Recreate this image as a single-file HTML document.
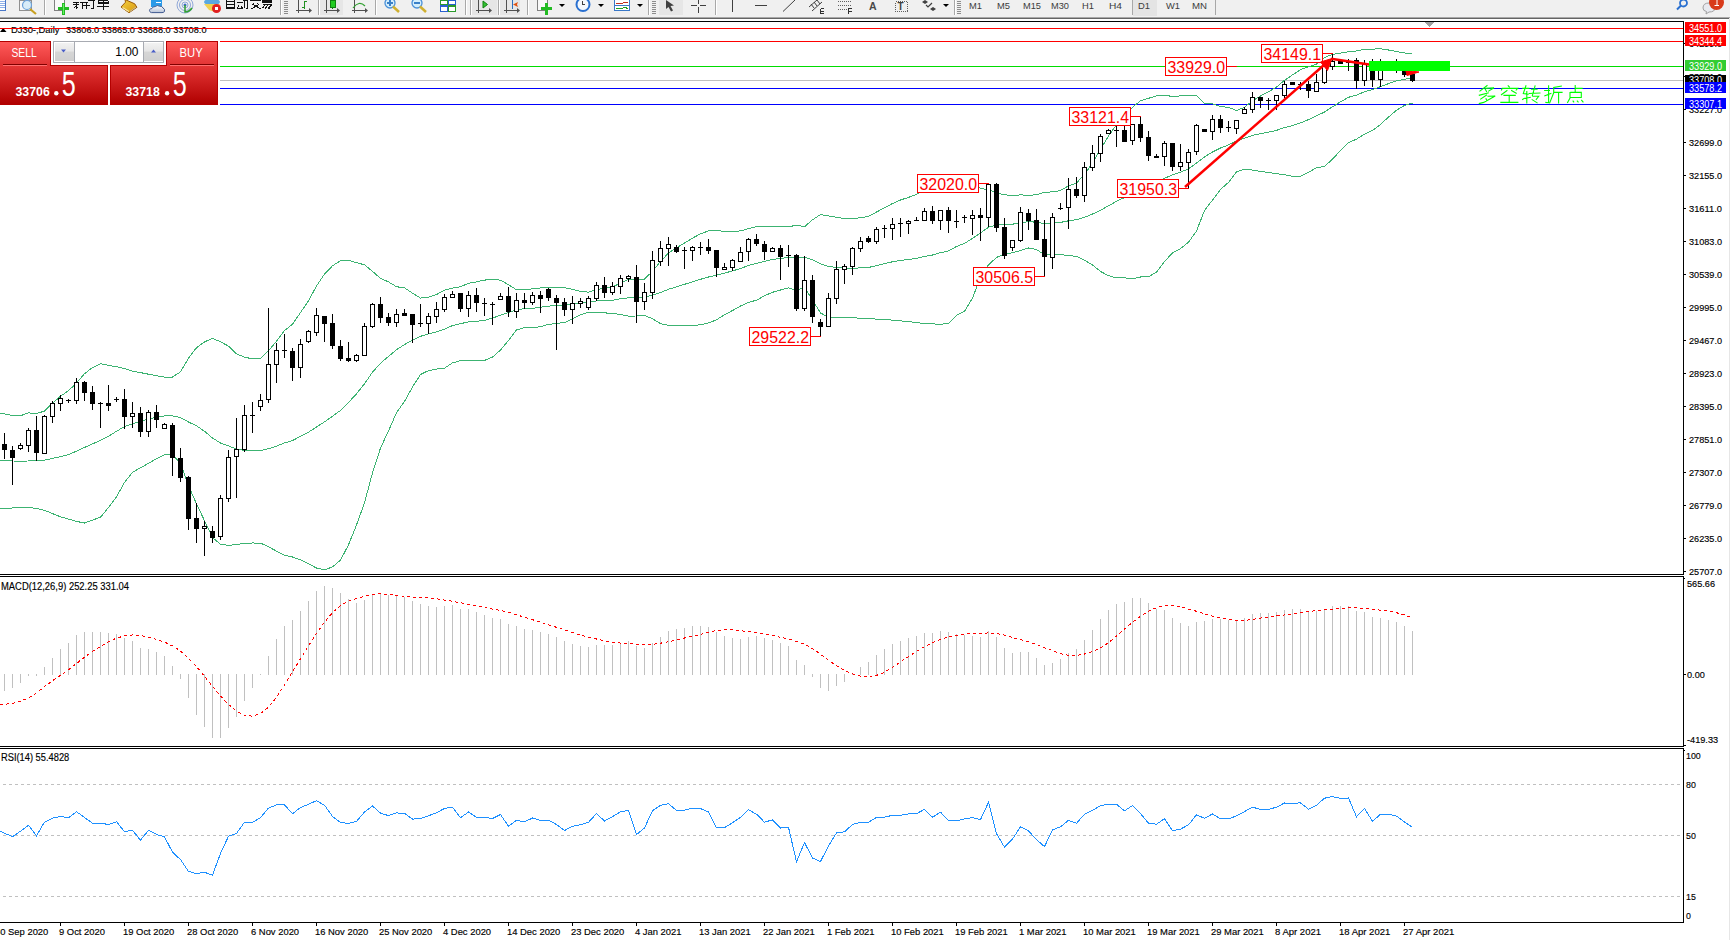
<!DOCTYPE html><html><head><meta charset="utf-8"><style>html,body{margin:0;padding:0;background:#fff;width:1730px;height:940px;overflow:hidden}svg{display:block}text{font-family:"Liberation Sans",sans-serif}</style></head><body><svg width="1730" height="940" viewBox="0 0 1730 940" shape-rendering="crispEdges">
<rect x="0" y="0" width="1730" height="940" fill="#ffffff"/>
<rect x="0" y="0" width="1730" height="17" fill="#f0f0f0"/>
<rect x="0" y="17" width="1730" height="1" fill="#a8a8a8"/>
<rect x="0" y="18" width="1730" height="1" fill="#646464"/>
<rect x="1729" y="18" width="1" height="922" fill="#e6e6e6"/>
<text x="869" y="9.5" font-size="10.5" fill="#484848" font-weight="bold">A</text>
<text x="897.5" y="10" font-size="10" fill="#404040" font-weight="bold">T</text>
<rect x="0" y="0" width="6" height="11" fill="#ffffff"/><rect x="5" y="0" width="1" height="11" fill="#4a78c8"/><rect x="0" y="10" width="6" height="1" fill="#4a78c8"/><rect x="0" y="1" width="5" height="1" fill="#8fb0e8"/><rect x="0" y="3" width="5" height="1" fill="#8fb0e8"/><rect x="0" y="5" width="5" height="1" fill="#8fb0e8"/><rect x="0" y="7" width="5" height="1" fill="#8fb0e8"/><rect x="19" y="0" width="12" height="10" fill="#f8f8f8" stroke="#909090" stroke-width="1"/><circle cx="27" cy="5" r="4.5" fill="#d8ecf8" stroke="#6aa0d8" stroke-width="1.2" shape-rendering="auto"/><line x1="30" y1="9" x2="36" y2="14" stroke="#c8a020" stroke-width="2.2" shape-rendering="auto"/><rect x="44" y="0" width="1" height="15" fill="#a8a8a8"/><rect x="45" y="0" width="1" height="15" fill="#ffffff"/><rect x="54.5" y="-1" width="10" height="11" fill="#f8f8f8" stroke="#808080" stroke-width="1"/><rect x="62" y="3" width="3" height="12" fill="#22bb22"/><rect x="58" y="7" width="11" height="3" fill="#22bb22"/><rect x="63" y="4" width="1" height="10" fill="#66ee66"/><path d="M73,2.5 H79 M73,4.5 H79 M76,2.5 V9 M73.5,8.5 L76,6 L78.5,8.5 M80,2.5 H88 M82.5,2.5 V9 M86.5,2.5 V9 M82.5,5.5 H88 M87.5,6 L89.5,5 M88,0.5 H95 M93,0.5 V8.5 L90.5,8.5 M98,0.5 H108 M98,2 H108 M98,3.5 H108 M98,0.5 V4 M108,0.5 V4 M97,6.5 H109 M103,0 V9.5" fill="none" stroke="#111" stroke-width="1"/><defs><linearGradient id="gbook" x1="0" y1="0" x2="1" y2="1"><stop offset="0" stop-color="#f4d040"/><stop offset="1" stop-color="#d89810"/></linearGradient><linearGradient id="gcloud" x1="0" y1="0" x2="0" y2="1"><stop offset="0" stop-color="#ffffff"/><stop offset="1" stop-color="#b8c4d8"/></linearGradient></defs><polygon points="125,-0.5 134.7,3.8 136.9,7.3 129,12.7 121,7 125.5,2.2" fill="url(#gbook)" stroke="#9a5a08" stroke-width="1" shape-rendering="auto"/><path d="M122.5,7.5 L129,11.5" stroke="#f8e8a0" stroke-width="1.2" shape-rendering="auto"/><path d="M130,11.5 L136,7" stroke="#c8b890" stroke-width="1" shape-rendering="auto"/><rect x="151" y="0" width="11" height="7" fill="#2a9ae8"/><rect x="154.5" y="0" width="0.8" height="7" fill="#e0f0ff"/><rect x="156" y="1.5" width="5" height="1" fill="#ffffff"/><path d="M150,11.8 Q148.3,9 151.8,8.6 Q153,6.2 155.3,6.6 Q157,4.6 159.6,6.2 Q162,5.8 163,8 Q165.5,9 164.3,11.8 Q163.5,12.6 162,12.6 L151.5,12.6 Q150.5,12.6 150,11.8 Z" fill="url(#gcloud)" stroke="#405a90" stroke-width="1" shape-rendering="auto"/><g fill="none" stroke="#90a8d8" stroke-width="1" shape-rendering="auto"><circle cx="185" cy="5" r="3"/><circle cx="185" cy="5" r="5.5"/><circle cx="185" cy="5" r="8"/></g><circle cx="185" cy="5" r="1.5" fill="#3a6ad0" shape-rendering="auto"/><path d="M185,5 V12 Q189,12 192,8" fill="none" stroke="#30a030" stroke-width="1.5" shape-rendering="auto"/><ellipse cx="212" cy="2" rx="8" ry="3.5" fill="#5aa8e0" shape-rendering="auto"/><polygon points="204,4 220,4 215,12 209,10" fill="#f0d050" shape-rendering="auto"/><circle cx="216.5" cy="8.5" r="4.5" fill="#e02020" shape-rendering="auto"/><rect x="215" y="7" width="3" height="3" fill="#ffffff"/><path d="M226.5,0 V9 M234.5,0 V9 M226.5,1.5 H234.5 M226.5,4.5 H234.5 M226.5,7 H234.5 M226.5,8.5 H234.5 M237,2.5 H243 M238.5,5 L237.5,8.5 H243 M241,6 L242.5,8 M243,0.5 H248 M247.5,0.5 V8.5 L246,9 M245,0 L244,8.5 M250,0.5 H261 M252,5 L254.5,2.8 M259,5 L256.5,2.8 M251,9 L259,4.5 M253,4.5 L261,9 M262.5,0 H271.5 V2.5 H262.5 Z M262.5,1.3 H271.5 M263,4 H272 L269,9 M265,5 L262.5,8 M268,5 L265,9 M271,5 L268,9" fill="none" stroke="#111" stroke-width="1"/><rect x="280" y="0" width="1" height="15" fill="#a8a8a8"/><rect x="281" y="0" width="1" height="15" fill="#ffffff"/><rect x="284" y="1" width="4" height="1" fill="#8c8c8c"/><rect x="284" y="3" width="4" height="1" fill="#8c8c8c"/><rect x="284" y="5" width="4" height="1" fill="#8c8c8c"/><rect x="284" y="7" width="4" height="1" fill="#8c8c8c"/><rect x="284" y="9" width="4" height="1" fill="#8c8c8c"/><rect x="284" y="11" width="4" height="1" fill="#8c8c8c"/><rect x="284" y="13" width="4" height="1" fill="#8c8c8c"/><rect x="298" y="0" width="1" height="13" fill="#505050"/><rect x="296" y="10" width="14" height="1" fill="#505050"/><polygon points="309,8 312,10.5 309,13" fill="#505050" shape-rendering="auto"/><path d="M304.5,1 V8.5 M304.5,1.5 H307 M304.5,7.5 H302" fill="none" stroke="#209020" stroke-width="1.3"/><rect x="318" y="0" width="1" height="15" fill="#a8a8a8"/><rect x="319" y="0" width="1" height="15" fill="#ffffff"/><rect x="320" y="0" width="23" height="15" fill="#e6e6e6"/><rect x="326" y="0" width="1" height="13" fill="#505050"/><rect x="324" y="10" width="14" height="1" fill="#505050"/><polygon points="337,8 340,10.5 337,13" fill="#505050" shape-rendering="auto"/><rect x="330" y="0" width="5" height="7" fill="#22cc22" stroke="#108010" stroke-width="1"/><rect x="332" y="7" width="1" height="2" fill="#108010"/><rect x="354" y="0" width="1" height="13" fill="#505050"/><rect x="352" y="10" width="14" height="1" fill="#505050"/><polygon points="365,8 368,10.5 365,13" fill="#505050" shape-rendering="auto"/><path d="M353,8 Q359,0 365,6" fill="none" stroke="#30a030" stroke-width="1.2" shape-rendering="auto"/><rect x="375" y="0" width="1" height="15" fill="#a8a8a8"/><rect x="376" y="0" width="1" height="15" fill="#ffffff"/><circle cx="390" cy="3" r="5" fill="#d4eefc" stroke="#4a90d8" stroke-width="1.3" shape-rendering="auto"/><line x1="393" y1="6.5" x2="399" y2="12" stroke="#d0b030" stroke-width="2.5" shape-rendering="auto"/><rect x="387" y="2" width="6" height="2" fill="#3a80c8"/><rect x="389" y="-1" width="2" height="7" fill="#3a80c8"/><circle cx="417" cy="3" r="5" fill="#d4eefc" stroke="#4a90d8" stroke-width="1.3" shape-rendering="auto"/><line x1="420" y1="6.5" x2="426" y2="12" stroke="#d0b030" stroke-width="2.5" shape-rendering="auto"/><rect x="414" y="2" width="6" height="2" fill="#3a80c8"/><rect x="440" y="0" width="8" height="5" fill="#2a9a2a"/><rect x="448" y="0" width="8" height="5" fill="#2a60d0"/><rect x="440" y="5" width="8" height="7" fill="#2a60d0"/><rect x="448" y="5" width="8" height="7" fill="#2a9a2a"/><rect x="441" y="1" width="6" height="3" fill="#fff"/><rect x="449" y="1" width="6" height="3" fill="#fff"/><rect x="441" y="7" width="6" height="4" fill="#fff"/><rect x="449" y="7" width="6" height="4" fill="#fff"/><rect x="465" y="0" width="1" height="15" fill="#a8a8a8"/><rect x="466" y="0" width="1" height="15" fill="#ffffff"/><rect x="470" y="0" width="1" height="15" fill="#a8a8a8"/><rect x="471" y="0" width="1" height="15" fill="#ffffff"/><rect x="472" y="0" width="25" height="15" fill="#e6e6e6"/><rect x="478" y="0" width="1" height="13" fill="#505050"/><rect x="476" y="10" width="14" height="1" fill="#505050"/><polygon points="489,8 492,10.5 489,13" fill="#505050" shape-rendering="auto"/><polygon points="483,1 483,8 487.5,4.5" fill="#30c030" stroke="#108010" stroke-width="1" shape-rendering="auto"/><rect x="498" y="0" width="1" height="15" fill="#a8a8a8"/><rect x="499" y="0" width="1" height="15" fill="#ffffff"/><rect x="500" y="0" width="20" height="15" fill="#e6e6e6"/><rect x="506" y="0" width="1" height="13" fill="#505050"/><rect x="504" y="10" width="14" height="1" fill="#505050"/><polygon points="517,8 520,10.5 517,13" fill="#505050" shape-rendering="auto"/><rect x="512" y="0" width="1" height="9" fill="#2a70c0"/><polygon points="513,4.5 518,2 517,4.5 518,7" fill="#e05010" shape-rendering="auto"/><rect x="527" y="0" width="1" height="15" fill="#a8a8a8"/><rect x="528" y="0" width="1" height="15" fill="#ffffff"/><rect x="537.5" y="-1" width="10" height="11" fill="#f8f8f8" stroke="#808080" stroke-width="1"/><rect x="545" y="3" width="3" height="12" fill="#22bb22"/><rect x="541" y="7" width="11" height="3" fill="#22bb22"/><polygon points="559,4 565,4 562,7" fill="#000" shape-rendering="auto"/><circle cx="583" cy="4.5" r="6.5" fill="#f4f8fc" stroke="#2a70d0" stroke-width="2" shape-rendering="auto"/><path d="M582.5,1 V4.5 H585" fill="none" stroke="#404040" stroke-width="1"/><polygon points="598,4 604,4 601,7" fill="#000" shape-rendering="auto"/><rect x="614.5" y="-0.5" width="15" height="11" fill="#ffffff" stroke="#3a78c8" stroke-width="1"/><rect x="615" y="5" width="15" height="1" fill="#3a78c8"/><path d="M616,4 L619,3 L622,3.5 L625,2 L628,2.5" fill="none" stroke="#c03020" stroke-width="1"/><path d="M616,9 L619,8 L622,8.5 L625,7 L628,9" fill="none" stroke="#20a020" stroke-width="1"/><polygon points="637,4 643,4 640,7" fill="#000" shape-rendering="auto"/><rect x="648" y="0" width="1" height="15" fill="#a8a8a8"/><rect x="649" y="0" width="1" height="15" fill="#ffffff"/><rect x="652" y="1" width="4" height="1" fill="#8c8c8c"/><rect x="652" y="3" width="4" height="1" fill="#8c8c8c"/><rect x="652" y="5" width="4" height="1" fill="#8c8c8c"/><rect x="652" y="7" width="4" height="1" fill="#8c8c8c"/><rect x="652" y="9" width="4" height="1" fill="#8c8c8c"/><rect x="652" y="11" width="4" height="1" fill="#8c8c8c"/><rect x="652" y="13" width="4" height="1" fill="#8c8c8c"/><rect x="659" y="0" width="24" height="15" fill="#e6e6e6"/><polygon points="666,0 674,5.5 670.5,6 673,10.5 671,11.5 668.5,7 666,9" fill="#404040" shape-rendering="auto"/><rect x="691" y="5" width="6" height="1" fill="#404040"/><rect x="700" y="5" width="6" height="1" fill="#404040"/><rect x="698" y="0" width="1" height="4" fill="#404040"/><rect x="698" y="7" width="1" height="6" fill="#404040"/><rect x="715" y="0" width="1" height="15" fill="#a8a8a8"/><rect x="716" y="0" width="1" height="15" fill="#ffffff"/><rect x="732" y="0" width="1" height="12" fill="#404040"/><rect x="755" y="5" width="12" height="1" fill="#404040"/><line x1="783" y1="11.5" x2="795" y2="0" stroke="#404040" stroke-width="1" shape-rendering="auto"/><path d="M809,7 L817,0 M812,11 L822,2 M811,4 L814,8 M814,2 L817,6 M817,0 L820,4" fill="none" stroke="#404040" stroke-width="1" shape-rendering="auto"/><path d="M820.5,8.5 V13.5 H824 M820.5,11 H823.5 M820.5,8.5 H824" fill="none" stroke="#303030" stroke-width="1"/><line x1="838" y1="1.5" x2="851" y2="1.5" stroke="#606060" stroke-width="1" stroke-dasharray="1,1"/><line x1="838" y1="5.5" x2="851" y2="5.5" stroke="#606060" stroke-width="1" stroke-dasharray="1,1"/><line x1="838" y1="9.5" x2="847" y2="9.5" stroke="#606060" stroke-width="1" stroke-dasharray="1,1"/><path d="M848.5,14 V8.5 H852 M848.5,11 H851.5" fill="none" stroke="#303030" stroke-width="1"/><rect x="895.5" y="1.5" width="12" height="10" fill="none" stroke="#606060" stroke-width="1" stroke-dasharray="1,1"/><polygon points="925,0 928,2 925,4 922,2" fill="#404040" shape-rendering="auto"/><path d="M926,5 L928,7 L932,3" fill="none" stroke="#404040" stroke-width="1.2" shape-rendering="auto"/><polygon points="933,7 936,9 933,11 930,9" fill="#404040" shape-rendering="auto"/><polygon points="943,4 949,4 946,7" fill="#000" shape-rendering="auto"/><rect x="954" y="0" width="1" height="15" fill="#a8a8a8"/><rect x="955" y="0" width="1" height="15" fill="#ffffff"/><rect x="957" y="1" width="4" height="1" fill="#8c8c8c"/><rect x="957" y="3" width="4" height="1" fill="#8c8c8c"/><rect x="957" y="5" width="4" height="1" fill="#8c8c8c"/><rect x="957" y="7" width="4" height="1" fill="#8c8c8c"/><rect x="957" y="9" width="4" height="1" fill="#8c8c8c"/><rect x="957" y="11" width="4" height="1" fill="#8c8c8c"/><rect x="957" y="13" width="4" height="1" fill="#8c8c8c"/>
<text x="969" y="9" font-size="9.6" fill="#3c3c3c" textLength="13" lengthAdjust="spacingAndGlyphs">M1</text>
<text x="997" y="9" font-size="9.6" fill="#3c3c3c" textLength="13" lengthAdjust="spacingAndGlyphs">M5</text>
<text x="1023" y="9" font-size="9.6" fill="#3c3c3c" textLength="18" lengthAdjust="spacingAndGlyphs">M15</text>
<text x="1051" y="9" font-size="9.6" fill="#3c3c3c" textLength="18" lengthAdjust="spacingAndGlyphs">M30</text>
<text x="1082" y="9" font-size="9.6" fill="#3c3c3c" textLength="12" lengthAdjust="spacingAndGlyphs">H1</text>
<text x="1109" y="9" font-size="9.6" fill="#3c3c3c" textLength="13" lengthAdjust="spacingAndGlyphs">H4</text>
<rect x="1133" y="0" width="24" height="16" fill="#e4e4e4"/>
<text x="1138" y="9" font-size="9.6" fill="#3c3c3c" textLength="12" lengthAdjust="spacingAndGlyphs">D1</text>
<text x="1166" y="9" font-size="9.6" fill="#3c3c3c" textLength="14" lengthAdjust="spacingAndGlyphs">W1</text>
<text x="1192" y="9" font-size="9.6" fill="#3c3c3c" textLength="15" lengthAdjust="spacingAndGlyphs">MN</text>
<rect x="1132" y="0" width="1" height="15" fill="#a8a8a8"/>
<rect x="1215" y="0" width="1" height="15" fill="#a8a8a8"/>
<g shape-rendering="auto"><circle cx="1683.5" cy="3" r="3.5" fill="none" stroke="#2a70d0" stroke-width="1.8"/><line x1="1681" y1="5.5" x2="1677" y2="9.5" stroke="#2a70d0" stroke-width="2"/>
<path d="M1703,8 Q1703,3 1709,3 Q1715,3 1715,8 Q1715,12 1709,12 L1706,14 L1706.5,11.5 Q1703,11 1703,8 Z" fill="#e8eaf0" stroke="#a0a0a0" stroke-width="1"/>
<circle cx="1716.5" cy="2.5" r="7.5" fill="#d83a1a"/><path d="M1715,-1 H1717 V5.5 M1714.5,5.5 H1719" fill="none" stroke="#fff" stroke-width="1"/></g>
<clipPath id="cm"><rect x="0" y="22" width="1683" height="552"/></clipPath>
<g clip-path="url(#cm)">
<text x="11" y="33" font-size="9.7" fill="#000" textLength="48.4" lengthAdjust="spacingAndGlyphs" stroke="#000" stroke-width="0.15">DJ30-,Daily</text>
<text x="66" y="33" font-size="9.7" fill="#000" textLength="140.5" lengthAdjust="spacingAndGlyphs" stroke="#000" stroke-width="0.15">33806.0 33865.0 33688.0 33708.0</text>
<polygon points="0,32 6.5,32 3.2,28" fill="#000" shape-rendering="auto"/>
<rect x="0" y="28" width="1683" height="1" fill="#ff0000"/>
<rect x="0" y="41" width="1683" height="1" fill="#ff0000"/>
<rect x="0" y="66" width="1683" height="1" fill="#00dc00"/>
<rect x="0" y="80" width="1683" height="1" fill="#c0c0c0"/>
<rect x="0" y="88" width="1683" height="1" fill="#0000ff"/>
<rect x="0" y="104" width="1683" height="1" fill="#0000ff"/>
<polyline points="0,413.8 4.5,413.8 12.5,415.7 20.5,415.7 28.5,412.9 36.5,413.4 44.5,411.2 52.5,403.2 60.5,396.3 68.5,390.6 76.5,383.1 84.5,373.7 92.5,367.6 100.5,363.7 108.5,365.4 116.5,366.7 124.5,368.6 132.5,371.1 140.5,372.6 148.5,374.2 156.5,375.7 164.5,377.1 172.5,377.1 180.5,371.8 188.5,358.3 196.5,347.7 204.5,341.9 212.5,338.4 220.5,341.7 228.5,346.2 236.5,353.9 244.5,357.2 252.5,358.8 260.5,358.3 268.5,350.7 276.5,341.3 284.5,330.6 292.5,324.2 300.5,312.6 308.5,300.7 316.5,286.0 324.5,274.0 332.5,265.8 340.5,260.7 348.5,260.2 356.5,262.7 364.5,264.8 372.5,271.4 380.5,278.3 388.5,281.9 396.5,286.7 404.5,287.9 412.5,293.2 420.5,298.1 428.5,297.1 436.5,294.5 444.5,290.1 452.5,288.1 460.5,286.8 468.5,283.3 476.5,281.9 484.5,280.1 492.5,279.4 500.5,280.1 508.5,284.7 516.5,289.8 524.5,290.0 532.5,288.8 540.5,288.0 548.5,287.8 556.5,287.6 564.5,287.8 572.5,289.3 580.5,291.3 588.5,292.2 596.5,289.3 604.5,288.6 612.5,286.9 620.5,283.1 628.5,279.5 636.5,279.5 644.5,279.1 652.5,271.3 660.5,261.5 668.5,253.1 676.5,247.7 684.5,243.0 692.5,238.1 700.5,233.9 708.5,230.9 716.5,230.6 724.5,231.4 732.5,231.4 740.5,230.9 748.5,228.6 756.5,226.6 764.5,226.9 772.5,226.7 780.5,226.8 788.5,226.9 796.5,225.1 804.5,226.8 812.5,219.8 820.5,214.6 828.5,215.9 836.5,217.2 844.5,218.5 852.5,218.6 860.5,217.7 868.5,216.5 876.5,212.0 884.5,207.9 892.5,203.5 900.5,200.0 908.5,197.4 916.5,194.3 924.5,189.1 932.5,186.1 940.5,181.2 948.5,178.2 956.5,177.9 964.5,175.6 972.5,178.6 980.5,188.7 988.5,189.5 996.5,192.8 1004.5,194.8 1012.5,195.5 1020.5,194.9 1028.5,195.3 1036.5,194.8 1044.5,192.3 1052.5,191.9 1060.5,190.5 1068.5,185.9 1076.5,183.0 1084.5,174.4 1092.5,163.1 1100.5,149.2 1108.5,136.0 1116.5,124.7 1124.5,117.2 1132.5,107.2 1140.5,100.8 1148.5,98.3 1156.5,95.9 1164.5,95.2 1172.5,96.5 1180.5,95.9 1188.5,95.5 1196.5,95.3 1204.5,103.3 1212.5,103.9 1220.5,106.6 1228.5,107.4 1236.5,110.5 1244.5,107.3 1252.5,100.8 1260.5,96.0 1268.5,91.8 1276.5,87.1 1284.5,80.3 1292.5,74.9 1300.5,69.6 1308.5,66.9 1316.5,64.0 1324.5,57.5 1332.5,54.4 1340.5,53.1 1348.5,51.8 1356.5,51.0 1364.5,49.3 1372.5,49.1 1380.5,48.8 1388.5,50.0 1396.5,51.5 1404.5,53.0 1412.5,53.6" fill="none" stroke="#3cb371" stroke-width="1"/>
<polyline points="0,460.9 4.5,460.9 12.5,461.0 20.5,461.1 28.5,461.0 36.5,460.6 44.5,460.2 52.5,458.4 60.5,456.7 68.5,454.7 76.5,451.1 84.5,447.5 92.5,443.9 100.5,440.3 108.5,436.2 116.5,431.3 124.5,426.5 132.5,423.7 140.5,421.1 148.5,419.1 156.5,417.2 164.5,416.0 172.5,415.9 180.5,417.6 188.5,422.0 196.5,425.8 204.5,431.3 212.5,438.0 220.5,443.0 228.5,445.8 236.5,449.2 244.5,450.3 252.5,450.9 260.5,450.7 268.5,448.7 276.5,446.2 284.5,442.9 292.5,440.6 300.5,436.3 308.5,432.2 316.5,427.0 324.5,421.9 332.5,416.3 340.5,410.4 348.5,402.5 356.5,393.8 364.5,383.8 372.5,372.2 380.5,363.2 388.5,356.4 396.5,349.7 404.5,344.6 412.5,340.1 420.5,336.3 428.5,333.9 436.5,331.8 444.5,329.2 452.5,325.5 460.5,323.7 468.5,321.9 476.5,321.3 484.5,320.3 492.5,318.2 500.5,315.1 508.5,312.6 516.5,309.9 524.5,308.7 532.5,308.3 540.5,307.3 548.5,306.1 556.5,305.5 564.5,305.2 572.5,304.1 580.5,303.1 588.5,302.1 596.5,300.9 604.5,300.7 612.5,300.3 620.5,298.8 628.5,297.8 636.5,297.8 644.5,297.2 652.5,295.0 660.5,292.6 668.5,289.3 676.5,286.8 684.5,284.3 692.5,281.9 700.5,279.3 708.5,277.0 716.5,275.2 724.5,273.1 732.5,270.9 740.5,268.5 748.5,265.5 756.5,263.4 764.5,261.4 772.5,259.5 780.5,258.4 788.5,257.4 796.5,257.7 804.5,257.1 812.5,259.9 820.5,263.8 828.5,266.5 836.5,267.4 844.5,268.2 852.5,268.2 860.5,267.9 868.5,267.5 876.5,265.6 884.5,263.6 892.5,261.8 900.5,260.4 908.5,259.5 916.5,258.4 924.5,256.4 932.5,255.0 940.5,252.7 948.5,250.9 956.5,246.5 964.5,243.4 972.5,238.4 980.5,232.9 988.5,227.2 996.5,225.1 1004.5,224.6 1012.5,224.2 1020.5,222.7 1028.5,221.7 1036.5,222.2 1044.5,223.6 1052.5,223.2 1060.5,222.4 1068.5,220.8 1076.5,219.6 1084.5,217.4 1092.5,214.0 1100.5,210.3 1108.5,205.8 1116.5,201.3 1124.5,197.5 1132.5,192.9 1140.5,188.9 1148.5,187.5 1156.5,184.0 1164.5,178.4 1172.5,174.7 1180.5,172.2 1188.5,168.8 1196.5,163.1 1204.5,156.9 1212.5,152.0 1220.5,148.0 1228.5,144.9 1236.5,141.1 1244.5,138.2 1252.5,135.4 1260.5,133.7 1268.5,132.1 1276.5,130.4 1284.5,127.5 1292.5,125.6 1300.5,122.9 1308.5,119.6 1316.5,115.9 1324.5,112.0 1332.5,106.8 1340.5,101.8 1348.5,97.3 1356.5,95.1 1364.5,91.7 1372.5,89.7 1380.5,86.6 1388.5,83.6 1396.5,80.9 1404.5,79.2 1412.5,78.3" fill="none" stroke="#3cb371" stroke-width="1"/>
<polyline points="0,508.5 4.5,508.5 12.5,508.0 20.5,507.5 28.5,507.6 36.5,508.4 44.5,510.3 52.5,513.6 60.5,516.8 68.5,519.1 76.5,521.4 84.5,523.0 92.5,520.1 100.5,517.2 108.5,507.5 116.5,496.8 124.5,482.5 132.5,472.2 140.5,467.8 148.5,463.3 156.5,458.8 164.5,454.8 172.5,454.8 180.5,463.4 188.5,485.7 196.5,503.9 204.5,520.7 212.5,537.6 220.5,544.3 228.5,545.4 236.5,544.5 244.5,543.4 252.5,543.0 260.5,543.1 268.5,546.7 276.5,551.2 284.5,555.3 292.5,557.0 300.5,559.9 308.5,563.8 316.5,568.0 324.5,569.9 332.5,566.9 340.5,560.1 348.5,544.8 356.5,525.0 364.5,502.8 372.5,472.9 380.5,448.0 388.5,430.9 396.5,412.7 404.5,401.4 412.5,387.0 420.5,374.5 428.5,370.6 436.5,369.1 444.5,368.2 452.5,362.9 460.5,360.6 468.5,360.6 476.5,360.7 484.5,360.4 492.5,357.1 500.5,350.1 508.5,340.5 516.5,330.0 524.5,327.5 532.5,327.8 540.5,326.7 548.5,324.4 556.5,323.4 564.5,322.6 572.5,319.0 580.5,314.8 588.5,312.1 596.5,312.6 604.5,312.8 612.5,313.6 620.5,314.4 628.5,316.1 636.5,316.0 644.5,315.4 652.5,318.7 660.5,323.7 668.5,325.4 676.5,325.9 684.5,325.5 692.5,325.6 700.5,324.7 708.5,323.0 716.5,319.8 724.5,314.8 732.5,310.5 740.5,306.0 748.5,302.4 756.5,300.2 764.5,295.8 772.5,292.3 780.5,290.0 788.5,287.8 796.5,290.3 804.5,287.5 812.5,300.0 820.5,313.0 828.5,317.2 836.5,317.6 844.5,317.9 852.5,317.9 860.5,318.1 868.5,318.4 876.5,319.1 884.5,319.4 892.5,320.1 900.5,320.9 908.5,321.7 916.5,322.5 924.5,323.6 932.5,323.9 940.5,324.2 948.5,323.7 956.5,315.2 964.5,311.3 972.5,298.1 980.5,277.1 988.5,264.9 996.5,257.4 1004.5,254.3 1012.5,252.8 1020.5,250.5 1028.5,248.0 1036.5,249.5 1044.5,254.8 1052.5,254.5 1060.5,254.3 1068.5,255.8 1076.5,256.2 1084.5,260.3 1092.5,265.0 1100.5,271.4 1108.5,275.7 1116.5,277.9 1124.5,277.8 1132.5,278.7 1140.5,277.0 1148.5,276.8 1156.5,272.1 1164.5,261.6 1172.5,252.9 1180.5,248.6 1188.5,242.2 1196.5,231.0 1204.5,210.5 1212.5,200.1 1220.5,189.4 1228.5,182.4 1236.5,171.8 1244.5,169.2 1252.5,170.1 1260.5,171.4 1268.5,172.5 1276.5,173.7 1284.5,174.7 1292.5,176.2 1300.5,176.2 1308.5,172.3 1316.5,167.8 1324.5,166.5 1332.5,159.1 1340.5,150.5 1348.5,142.8 1356.5,139.1 1364.5,134.2 1372.5,130.4 1380.5,124.4 1388.5,117.1 1396.5,110.3 1404.5,105.4 1412.5,103.1" fill="none" stroke="#3cb371" stroke-width="1"/>
<rect x="4" y="433" width="1" height="26" fill="#000"/>
<rect x="2" y="444" width="5" height="6" fill="#000"/>
<rect x="12" y="446" width="1" height="39" fill="#000"/>
<rect x="10" y="450" width="5" height="8" fill="#000"/>
<rect x="20" y="443" width="1" height="7" fill="#000"/>
<rect x="18" y="445" width="5" height="4" fill="#000"/>
<rect x="19" y="446" width="3" height="2" fill="#fff"/>
<rect x="28" y="428" width="1" height="24" fill="#000"/>
<rect x="26" y="430" width="5" height="16" fill="#000"/>
<rect x="27" y="431" width="3" height="14" fill="#fff"/>
<rect x="36" y="416" width="1" height="45" fill="#000"/>
<rect x="34" y="430" width="5" height="23" fill="#000"/>
<rect x="44" y="415" width="1" height="39" fill="#000"/>
<rect x="42" y="416" width="5" height="38" fill="#000"/>
<rect x="43" y="417" width="3" height="36" fill="#fff"/>
<rect x="52" y="401" width="1" height="22" fill="#000"/>
<rect x="50" y="403" width="5" height="14" fill="#000"/>
<rect x="51" y="404" width="3" height="12" fill="#fff"/>
<rect x="60" y="395" width="1" height="16" fill="#000"/>
<rect x="58" y="398" width="5" height="6" fill="#000"/>
<rect x="59" y="399" width="3" height="4" fill="#fff"/>
<rect x="68" y="399" width="1" height="4" fill="#000"/>
<rect x="66" y="400" width="5" height="1" fill="#000"/>
<rect x="76" y="378" width="1" height="26" fill="#000"/>
<rect x="74" y="382" width="5" height="19" fill="#000"/>
<rect x="75" y="383" width="3" height="17" fill="#fff"/>
<rect x="84" y="381" width="1" height="20" fill="#000"/>
<rect x="82" y="382" width="5" height="11" fill="#000"/>
<rect x="92" y="386" width="1" height="24" fill="#000"/>
<rect x="90" y="392" width="5" height="12" fill="#000"/>
<rect x="100" y="402" width="1" height="26" fill="#000"/>
<rect x="98" y="403" width="5" height="1" fill="#000"/>
<rect x="108" y="385" width="1" height="26" fill="#000"/>
<rect x="106" y="403" width="5" height="3" fill="#000"/>
<rect x="116" y="397" width="1" height="5" fill="#000"/>
<rect x="114" y="399" width="5" height="1" fill="#000"/>
<rect x="124" y="389" width="1" height="40" fill="#000"/>
<rect x="122" y="399" width="5" height="18" fill="#000"/>
<rect x="132" y="402" width="1" height="26" fill="#000"/>
<rect x="130" y="413" width="5" height="4" fill="#000"/>
<rect x="131" y="414" width="3" height="2" fill="#fff"/>
<rect x="140" y="407" width="1" height="30" fill="#000"/>
<rect x="138" y="413" width="5" height="19" fill="#000"/>
<rect x="148" y="410" width="1" height="27" fill="#000"/>
<rect x="146" y="412" width="5" height="20" fill="#000"/>
<rect x="147" y="413" width="3" height="18" fill="#fff"/>
<rect x="156" y="405" width="1" height="23" fill="#000"/>
<rect x="154" y="412" width="5" height="8" fill="#000"/>
<rect x="164" y="423" width="1" height="6" fill="#000"/>
<rect x="162" y="424" width="5" height="5" fill="#000"/>
<rect x="163" y="425" width="3" height="3" fill="#fff"/>
<rect x="172" y="423" width="1" height="53" fill="#000"/>
<rect x="170" y="425" width="5" height="33" fill="#000"/>
<rect x="180" y="448" width="1" height="34" fill="#000"/>
<rect x="178" y="458" width="5" height="20" fill="#000"/>
<rect x="188" y="476" width="1" height="54" fill="#000"/>
<rect x="186" y="477" width="5" height="42" fill="#000"/>
<rect x="196" y="503" width="1" height="40" fill="#000"/>
<rect x="194" y="518" width="5" height="11" fill="#000"/>
<rect x="204" y="521" width="1" height="35" fill="#000"/>
<rect x="202" y="526" width="5" height="3" fill="#000"/>
<rect x="203" y="527" width="3" height="1" fill="#fff"/>
<rect x="212" y="526" width="1" height="17" fill="#000"/>
<rect x="210" y="531" width="5" height="7" fill="#000"/>
<rect x="220" y="495" width="1" height="45" fill="#000"/>
<rect x="218" y="498" width="5" height="39" fill="#000"/>
<rect x="219" y="499" width="3" height="37" fill="#fff"/>
<rect x="228" y="450" width="1" height="52" fill="#000"/>
<rect x="226" y="457" width="5" height="42" fill="#000"/>
<rect x="227" y="458" width="3" height="40" fill="#fff"/>
<rect x="236" y="418" width="1" height="80" fill="#000"/>
<rect x="234" y="449" width="5" height="8" fill="#000"/>
<rect x="235" y="450" width="3" height="6" fill="#fff"/>
<rect x="244" y="405" width="1" height="47" fill="#000"/>
<rect x="242" y="415" width="5" height="35" fill="#000"/>
<rect x="243" y="416" width="3" height="33" fill="#fff"/>
<rect x="252" y="402" width="1" height="31" fill="#000"/>
<rect x="250" y="415" width="5" height="1" fill="#000"/>
<rect x="260" y="394" width="1" height="17" fill="#000"/>
<rect x="258" y="400" width="5" height="7" fill="#000"/>
<rect x="259" y="401" width="3" height="5" fill="#fff"/>
<rect x="268" y="308" width="1" height="95" fill="#000"/>
<rect x="266" y="364" width="5" height="36" fill="#000"/>
<rect x="267" y="365" width="3" height="34" fill="#fff"/>
<rect x="276" y="343" width="1" height="40" fill="#000"/>
<rect x="274" y="350" width="5" height="15" fill="#000"/>
<rect x="275" y="351" width="3" height="13" fill="#fff"/>
<rect x="284" y="334" width="1" height="24" fill="#000"/>
<rect x="282" y="350" width="5" height="1" fill="#000"/>
<rect x="292" y="348" width="1" height="33" fill="#000"/>
<rect x="290" y="351" width="5" height="17" fill="#000"/>
<rect x="300" y="339" width="1" height="39" fill="#000"/>
<rect x="298" y="344" width="5" height="24" fill="#000"/>
<rect x="299" y="345" width="3" height="22" fill="#fff"/>
<rect x="308" y="330" width="1" height="13" fill="#000"/>
<rect x="306" y="331" width="5" height="11" fill="#000"/>
<rect x="307" y="332" width="3" height="9" fill="#fff"/>
<rect x="316" y="308" width="1" height="28" fill="#000"/>
<rect x="314" y="315" width="5" height="18" fill="#000"/>
<rect x="315" y="316" width="3" height="16" fill="#fff"/>
<rect x="324" y="316" width="1" height="26" fill="#000"/>
<rect x="322" y="316" width="5" height="8" fill="#000"/>
<rect x="332" y="314" width="1" height="35" fill="#000"/>
<rect x="330" y="323" width="5" height="23" fill="#000"/>
<rect x="340" y="340" width="1" height="21" fill="#000"/>
<rect x="338" y="346" width="5" height="13" fill="#000"/>
<rect x="348" y="342" width="1" height="20" fill="#000"/>
<rect x="346" y="358" width="5" height="3" fill="#000"/>
<rect x="356" y="354" width="1" height="8" fill="#000"/>
<rect x="354" y="355" width="5" height="6" fill="#000"/>
<rect x="355" y="356" width="3" height="4" fill="#fff"/>
<rect x="364" y="323" width="1" height="33" fill="#000"/>
<rect x="362" y="326" width="5" height="30" fill="#000"/>
<rect x="363" y="327" width="3" height="28" fill="#fff"/>
<rect x="372" y="303" width="1" height="25" fill="#000"/>
<rect x="370" y="304" width="5" height="23" fill="#000"/>
<rect x="371" y="305" width="3" height="21" fill="#fff"/>
<rect x="380" y="297" width="1" height="26" fill="#000"/>
<rect x="378" y="304" width="5" height="14" fill="#000"/>
<rect x="388" y="313" width="1" height="13" fill="#000"/>
<rect x="386" y="317" width="5" height="6" fill="#000"/>
<rect x="396" y="309" width="1" height="18" fill="#000"/>
<rect x="394" y="314" width="5" height="9" fill="#000"/>
<rect x="395" y="315" width="3" height="7" fill="#fff"/>
<rect x="404" y="309" width="1" height="7" fill="#000"/>
<rect x="402" y="313" width="5" height="3" fill="#000"/>
<rect x="412" y="314" width="1" height="29" fill="#000"/>
<rect x="410" y="314" width="5" height="11" fill="#000"/>
<rect x="420" y="304" width="1" height="23" fill="#000"/>
<rect x="418" y="323" width="5" height="1" fill="#000"/>
<rect x="428" y="313" width="1" height="21" fill="#000"/>
<rect x="426" y="316" width="5" height="8" fill="#000"/>
<rect x="427" y="317" width="3" height="6" fill="#fff"/>
<rect x="436" y="302" width="1" height="21" fill="#000"/>
<rect x="434" y="309" width="5" height="8" fill="#000"/>
<rect x="435" y="310" width="3" height="6" fill="#fff"/>
<rect x="444" y="294" width="1" height="18" fill="#000"/>
<rect x="442" y="297" width="5" height="13" fill="#000"/>
<rect x="443" y="298" width="3" height="11" fill="#fff"/>
<rect x="452" y="291" width="1" height="7" fill="#000"/>
<rect x="450" y="294" width="5" height="4" fill="#000"/>
<rect x="451" y="295" width="3" height="2" fill="#fff"/>
<rect x="460" y="293" width="1" height="19" fill="#000"/>
<rect x="458" y="293" width="5" height="16" fill="#000"/>
<rect x="468" y="291" width="1" height="26" fill="#000"/>
<rect x="466" y="295" width="5" height="14" fill="#000"/>
<rect x="467" y="296" width="3" height="12" fill="#fff"/>
<rect x="476" y="288" width="1" height="24" fill="#000"/>
<rect x="474" y="295" width="5" height="8" fill="#000"/>
<rect x="484" y="298" width="1" height="18" fill="#000"/>
<rect x="482" y="303" width="5" height="1" fill="#000"/>
<rect x="492" y="302" width="1" height="23" fill="#000"/>
<rect x="490" y="304" width="5" height="1" fill="#000"/>
<rect x="500" y="293" width="1" height="7" fill="#000"/>
<rect x="498" y="296" width="5" height="4" fill="#000"/>
<rect x="499" y="297" width="3" height="2" fill="#fff"/>
<rect x="508" y="287" width="1" height="30" fill="#000"/>
<rect x="506" y="296" width="5" height="16" fill="#000"/>
<rect x="516" y="293" width="1" height="25" fill="#000"/>
<rect x="514" y="300" width="5" height="12" fill="#000"/>
<rect x="515" y="301" width="3" height="10" fill="#fff"/>
<rect x="524" y="293" width="1" height="16" fill="#000"/>
<rect x="522" y="300" width="5" height="3" fill="#000"/>
<rect x="532" y="292" width="1" height="13" fill="#000"/>
<rect x="530" y="295" width="5" height="8" fill="#000"/>
<rect x="531" y="296" width="3" height="6" fill="#fff"/>
<rect x="540" y="291" width="1" height="22" fill="#000"/>
<rect x="538" y="295" width="5" height="4" fill="#000"/>
<rect x="548" y="288" width="1" height="13" fill="#000"/>
<rect x="546" y="289" width="5" height="9" fill="#000"/>
<rect x="556" y="295" width="1" height="55" fill="#000"/>
<rect x="554" y="298" width="5" height="5" fill="#000"/>
<rect x="564" y="298" width="1" height="18" fill="#000"/>
<rect x="562" y="302" width="5" height="8" fill="#000"/>
<rect x="572" y="296" width="1" height="28" fill="#000"/>
<rect x="570" y="303" width="5" height="7" fill="#000"/>
<rect x="571" y="304" width="3" height="5" fill="#fff"/>
<rect x="580" y="298" width="1" height="10" fill="#000"/>
<rect x="578" y="301" width="5" height="3" fill="#000"/>
<rect x="579" y="302" width="3" height="1" fill="#fff"/>
<rect x="588" y="296" width="1" height="14" fill="#000"/>
<rect x="586" y="298" width="5" height="10" fill="#000"/>
<rect x="587" y="299" width="3" height="8" fill="#fff"/>
<rect x="596" y="282" width="1" height="19" fill="#000"/>
<rect x="594" y="285" width="5" height="14" fill="#000"/>
<rect x="595" y="286" width="3" height="12" fill="#fff"/>
<rect x="604" y="277" width="1" height="21" fill="#000"/>
<rect x="602" y="285" width="5" height="8" fill="#000"/>
<rect x="612" y="282" width="1" height="13" fill="#000"/>
<rect x="610" y="286" width="5" height="7" fill="#000"/>
<rect x="611" y="287" width="3" height="5" fill="#fff"/>
<rect x="620" y="275" width="1" height="19" fill="#000"/>
<rect x="618" y="278" width="5" height="9" fill="#000"/>
<rect x="619" y="279" width="3" height="7" fill="#fff"/>
<rect x="628" y="275" width="1" height="7" fill="#000"/>
<rect x="626" y="276" width="5" height="3" fill="#000"/>
<rect x="627" y="277" width="3" height="1" fill="#fff"/>
<rect x="636" y="265" width="1" height="58" fill="#000"/>
<rect x="634" y="277" width="5" height="25" fill="#000"/>
<rect x="644" y="283" width="1" height="27" fill="#000"/>
<rect x="642" y="292" width="5" height="10" fill="#000"/>
<rect x="643" y="293" width="3" height="8" fill="#fff"/>
<rect x="652" y="251" width="1" height="48" fill="#000"/>
<rect x="650" y="260" width="5" height="33" fill="#000"/>
<rect x="651" y="261" width="3" height="31" fill="#fff"/>
<rect x="660" y="241" width="1" height="25" fill="#000"/>
<rect x="658" y="248" width="5" height="14" fill="#000"/>
<rect x="659" y="249" width="3" height="12" fill="#fff"/>
<rect x="668" y="237" width="1" height="29" fill="#000"/>
<rect x="666" y="244" width="5" height="5" fill="#000"/>
<rect x="667" y="245" width="3" height="3" fill="#fff"/>
<rect x="676" y="245" width="1" height="8" fill="#000"/>
<rect x="674" y="247" width="5" height="5" fill="#000"/>
<rect x="684" y="247" width="1" height="22" fill="#000"/>
<rect x="682" y="250" width="5" height="1" fill="#000"/>
<rect x="692" y="246" width="1" height="15" fill="#000"/>
<rect x="690" y="247" width="5" height="4" fill="#000"/>
<rect x="691" y="248" width="3" height="2" fill="#fff"/>
<rect x="700" y="242" width="1" height="13" fill="#000"/>
<rect x="698" y="247" width="5" height="1" fill="#000"/>
<rect x="708" y="239" width="1" height="15" fill="#000"/>
<rect x="706" y="247" width="5" height="4" fill="#000"/>
<rect x="716" y="250" width="1" height="27" fill="#000"/>
<rect x="714" y="250" width="5" height="18" fill="#000"/>
<rect x="724" y="263" width="1" height="7" fill="#000"/>
<rect x="722" y="267" width="5" height="3" fill="#000"/>
<rect x="723" y="268" width="3" height="1" fill="#fff"/>
<rect x="732" y="259" width="1" height="12" fill="#000"/>
<rect x="730" y="260" width="5" height="8" fill="#000"/>
<rect x="731" y="261" width="3" height="6" fill="#fff"/>
<rect x="740" y="247" width="1" height="15" fill="#000"/>
<rect x="738" y="252" width="5" height="10" fill="#000"/>
<rect x="739" y="253" width="3" height="8" fill="#fff"/>
<rect x="748" y="238" width="1" height="23" fill="#000"/>
<rect x="746" y="239" width="5" height="13" fill="#000"/>
<rect x="747" y="240" width="3" height="11" fill="#fff"/>
<rect x="756" y="234" width="1" height="12" fill="#000"/>
<rect x="754" y="239" width="5" height="5" fill="#000"/>
<rect x="764" y="241" width="1" height="19" fill="#000"/>
<rect x="762" y="244" width="5" height="8" fill="#000"/>
<rect x="772" y="247" width="1" height="5" fill="#000"/>
<rect x="770" y="248" width="5" height="4" fill="#000"/>
<rect x="771" y="249" width="3" height="2" fill="#fff"/>
<rect x="780" y="245" width="1" height="35" fill="#000"/>
<rect x="778" y="248" width="5" height="9" fill="#000"/>
<rect x="788" y="245" width="1" height="22" fill="#000"/>
<rect x="786" y="255" width="5" height="1" fill="#000"/>
<rect x="796" y="254" width="1" height="57" fill="#000"/>
<rect x="794" y="255" width="5" height="54" fill="#000"/>
<rect x="804" y="256" width="1" height="55" fill="#000"/>
<rect x="802" y="280" width="5" height="29" fill="#000"/>
<rect x="803" y="281" width="3" height="27" fill="#fff"/>
<rect x="812" y="275" width="1" height="48" fill="#000"/>
<rect x="810" y="280" width="5" height="37" fill="#000"/>
<rect x="820" y="319" width="1" height="17" fill="#000"/>
<rect x="818" y="322" width="5" height="5" fill="#000"/>
<rect x="828" y="293" width="1" height="34" fill="#000"/>
<rect x="826" y="298" width="5" height="29" fill="#000"/>
<rect x="827" y="299" width="3" height="27" fill="#fff"/>
<rect x="836" y="261" width="1" height="43" fill="#000"/>
<rect x="834" y="269" width="5" height="30" fill="#000"/>
<rect x="835" y="270" width="3" height="28" fill="#fff"/>
<rect x="844" y="264" width="1" height="20" fill="#000"/>
<rect x="842" y="266" width="5" height="4" fill="#000"/>
<rect x="843" y="267" width="3" height="2" fill="#fff"/>
<rect x="852" y="247" width="1" height="28" fill="#000"/>
<rect x="850" y="248" width="5" height="19" fill="#000"/>
<rect x="851" y="249" width="3" height="17" fill="#fff"/>
<rect x="860" y="237" width="1" height="15" fill="#000"/>
<rect x="858" y="241" width="5" height="8" fill="#000"/>
<rect x="859" y="242" width="3" height="6" fill="#fff"/>
<rect x="868" y="236" width="1" height="7" fill="#000"/>
<rect x="866" y="238" width="5" height="4" fill="#000"/>
<rect x="876" y="227" width="1" height="17" fill="#000"/>
<rect x="874" y="229" width="5" height="13" fill="#000"/>
<rect x="875" y="230" width="3" height="11" fill="#fff"/>
<rect x="884" y="225" width="1" height="13" fill="#000"/>
<rect x="882" y="228" width="5" height="1" fill="#000"/>
<rect x="892" y="218" width="1" height="22" fill="#000"/>
<rect x="890" y="224" width="5" height="5" fill="#000"/>
<rect x="891" y="225" width="3" height="3" fill="#fff"/>
<rect x="900" y="218" width="1" height="19" fill="#000"/>
<rect x="898" y="223" width="5" height="1" fill="#000"/>
<rect x="908" y="220" width="1" height="14" fill="#000"/>
<rect x="906" y="221" width="5" height="3" fill="#000"/>
<rect x="907" y="222" width="3" height="1" fill="#fff"/>
<rect x="916" y="217" width="1" height="4" fill="#000"/>
<rect x="914" y="220" width="5" height="1" fill="#000"/>
<rect x="924" y="208" width="1" height="13" fill="#000"/>
<rect x="922" y="211" width="5" height="10" fill="#000"/>
<rect x="923" y="212" width="3" height="8" fill="#fff"/>
<rect x="932" y="206" width="1" height="18" fill="#000"/>
<rect x="930" y="211" width="5" height="10" fill="#000"/>
<rect x="940" y="210" width="1" height="20" fill="#000"/>
<rect x="938" y="210" width="5" height="11" fill="#000"/>
<rect x="939" y="211" width="3" height="9" fill="#fff"/>
<rect x="948" y="207" width="1" height="26" fill="#000"/>
<rect x="946" y="210" width="5" height="11" fill="#000"/>
<rect x="956" y="210" width="1" height="18" fill="#000"/>
<rect x="954" y="221" width="5" height="1" fill="#000"/>
<rect x="964" y="215" width="1" height="8" fill="#000"/>
<rect x="962" y="217" width="5" height="1" fill="#000"/>
<rect x="972" y="210" width="1" height="25" fill="#000"/>
<rect x="970" y="215" width="5" height="4" fill="#000"/>
<rect x="971" y="216" width="3" height="2" fill="#fff"/>
<rect x="980" y="208" width="1" height="33" fill="#000"/>
<rect x="978" y="215" width="5" height="3" fill="#000"/>
<rect x="988" y="183" width="1" height="44" fill="#000"/>
<rect x="986" y="184" width="5" height="34" fill="#000"/>
<rect x="987" y="185" width="3" height="32" fill="#fff"/>
<rect x="996" y="183" width="1" height="49" fill="#000"/>
<rect x="994" y="184" width="5" height="44" fill="#000"/>
<rect x="1004" y="218" width="1" height="41" fill="#000"/>
<rect x="1002" y="227" width="5" height="29" fill="#000"/>
<rect x="1012" y="240" width="1" height="11" fill="#000"/>
<rect x="1010" y="240" width="5" height="8" fill="#000"/>
<rect x="1011" y="241" width="3" height="6" fill="#fff"/>
<rect x="1020" y="207" width="1" height="35" fill="#000"/>
<rect x="1018" y="212" width="5" height="29" fill="#000"/>
<rect x="1019" y="213" width="3" height="27" fill="#fff"/>
<rect x="1028" y="209" width="1" height="21" fill="#000"/>
<rect x="1026" y="213" width="5" height="8" fill="#000"/>
<rect x="1036" y="209" width="1" height="31" fill="#000"/>
<rect x="1034" y="220" width="5" height="20" fill="#000"/>
<rect x="1044" y="220" width="1" height="57" fill="#000"/>
<rect x="1042" y="239" width="5" height="18" fill="#000"/>
<rect x="1052" y="213" width="1" height="56" fill="#000"/>
<rect x="1050" y="217" width="5" height="41" fill="#000"/>
<rect x="1051" y="218" width="3" height="39" fill="#fff"/>
<rect x="1060" y="203" width="1" height="7" fill="#000"/>
<rect x="1058" y="208" width="5" height="1" fill="#000"/>
<rect x="1068" y="178" width="1" height="51" fill="#000"/>
<rect x="1066" y="189" width="5" height="19" fill="#000"/>
<rect x="1067" y="190" width="3" height="17" fill="#fff"/>
<rect x="1076" y="177" width="1" height="21" fill="#000"/>
<rect x="1074" y="189" width="5" height="7" fill="#000"/>
<rect x="1084" y="162" width="1" height="40" fill="#000"/>
<rect x="1082" y="167" width="5" height="29" fill="#000"/>
<rect x="1083" y="168" width="3" height="27" fill="#fff"/>
<rect x="1092" y="145" width="1" height="26" fill="#000"/>
<rect x="1090" y="153" width="5" height="15" fill="#000"/>
<rect x="1091" y="154" width="3" height="13" fill="#fff"/>
<rect x="1100" y="134" width="1" height="28" fill="#000"/>
<rect x="1098" y="136" width="5" height="18" fill="#000"/>
<rect x="1099" y="137" width="3" height="16" fill="#fff"/>
<rect x="1108" y="129" width="1" height="5" fill="#000"/>
<rect x="1106" y="130" width="5" height="4" fill="#000"/>
<rect x="1107" y="131" width="3" height="2" fill="#fff"/>
<rect x="1116" y="125" width="1" height="22" fill="#000"/>
<rect x="1114" y="130" width="5" height="1" fill="#000"/>
<rect x="1124" y="125" width="1" height="17" fill="#000"/>
<rect x="1122" y="130" width="5" height="12" fill="#000"/>
<rect x="1132" y="124" width="1" height="21" fill="#000"/>
<rect x="1130" y="124" width="5" height="17" fill="#000"/>
<rect x="1131" y="125" width="3" height="15" fill="#fff"/>
<rect x="1140" y="116" width="1" height="26" fill="#000"/>
<rect x="1138" y="124" width="5" height="14" fill="#000"/>
<rect x="1148" y="131" width="1" height="30" fill="#000"/>
<rect x="1146" y="137" width="5" height="19" fill="#000"/>
<rect x="1156" y="154" width="1" height="4" fill="#000"/>
<rect x="1154" y="156" width="5" height="2" fill="#000"/>
<rect x="1164" y="141" width="1" height="25" fill="#000"/>
<rect x="1162" y="143" width="5" height="14" fill="#000"/>
<rect x="1163" y="144" width="3" height="12" fill="#fff"/>
<rect x="1172" y="143" width="1" height="28" fill="#000"/>
<rect x="1170" y="143" width="5" height="24" fill="#000"/>
<rect x="1180" y="144" width="1" height="27" fill="#000"/>
<rect x="1178" y="162" width="5" height="5" fill="#000"/>
<rect x="1179" y="163" width="3" height="3" fill="#fff"/>
<rect x="1188" y="149" width="1" height="40" fill="#000"/>
<rect x="1186" y="152" width="5" height="11" fill="#000"/>
<rect x="1187" y="153" width="3" height="9" fill="#fff"/>
<rect x="1196" y="124" width="1" height="31" fill="#000"/>
<rect x="1194" y="125" width="5" height="27" fill="#000"/>
<rect x="1195" y="126" width="3" height="25" fill="#fff"/>
<rect x="1204" y="129" width="1" height="3" fill="#000"/>
<rect x="1202" y="129" width="5" height="3" fill="#000"/>
<rect x="1212" y="115" width="1" height="25" fill="#000"/>
<rect x="1210" y="119" width="5" height="13" fill="#000"/>
<rect x="1211" y="120" width="3" height="11" fill="#fff"/>
<rect x="1220" y="115" width="1" height="18" fill="#000"/>
<rect x="1218" y="119" width="5" height="9" fill="#000"/>
<rect x="1228" y="121" width="1" height="11" fill="#000"/>
<rect x="1226" y="127" width="5" height="1" fill="#000"/>
<rect x="1236" y="120" width="1" height="14" fill="#000"/>
<rect x="1234" y="120" width="5" height="9" fill="#000"/>
<rect x="1235" y="121" width="3" height="7" fill="#fff"/>
<rect x="1244" y="107" width="1" height="7" fill="#000"/>
<rect x="1242" y="109" width="5" height="5" fill="#000"/>
<rect x="1243" y="110" width="3" height="3" fill="#fff"/>
<rect x="1252" y="92" width="1" height="21" fill="#000"/>
<rect x="1250" y="97" width="5" height="13" fill="#000"/>
<rect x="1251" y="98" width="3" height="11" fill="#fff"/>
<rect x="1260" y="97" width="1" height="11" fill="#000"/>
<rect x="1258" y="97" width="5" height="4" fill="#000"/>
<rect x="1268" y="98" width="1" height="12" fill="#000"/>
<rect x="1266" y="100" width="5" height="1" fill="#000"/>
<rect x="1276" y="95" width="1" height="15" fill="#000"/>
<rect x="1274" y="95" width="5" height="6" fill="#000"/>
<rect x="1275" y="96" width="3" height="4" fill="#fff"/>
<rect x="1284" y="81" width="1" height="17" fill="#000"/>
<rect x="1282" y="84" width="5" height="12" fill="#000"/>
<rect x="1283" y="85" width="3" height="10" fill="#fff"/>
<rect x="1292" y="82" width="1" height="3" fill="#000"/>
<rect x="1290" y="82" width="5" height="3" fill="#000"/>
<rect x="1300" y="82" width="1" height="8" fill="#000"/>
<rect x="1298" y="84" width="5" height="1" fill="#000"/>
<rect x="1308" y="81" width="1" height="17" fill="#000"/>
<rect x="1306" y="84" width="5" height="7" fill="#000"/>
<rect x="1316" y="74" width="1" height="18" fill="#000"/>
<rect x="1314" y="82" width="5" height="10" fill="#000"/>
<rect x="1315" y="83" width="3" height="8" fill="#fff"/>
<rect x="1324" y="63" width="1" height="21" fill="#000"/>
<rect x="1322" y="66" width="5" height="17" fill="#000"/>
<rect x="1323" y="67" width="3" height="15" fill="#fff"/>
<rect x="1332" y="53" width="1" height="17" fill="#000"/>
<rect x="1330" y="61" width="5" height="6" fill="#000"/>
<rect x="1331" y="62" width="3" height="4" fill="#fff"/>
<rect x="1340" y="61" width="1" height="3" fill="#000"/>
<rect x="1338" y="61" width="5" height="3" fill="#000"/>
<rect x="1348" y="59" width="1" height="12" fill="#000"/>
<rect x="1346" y="61" width="5" height="2" fill="#000"/>
<rect x="1356" y="58" width="1" height="31" fill="#000"/>
<rect x="1354" y="60" width="5" height="21" fill="#000"/>
<rect x="1364" y="60" width="1" height="26" fill="#000"/>
<rect x="1362" y="64" width="5" height="17" fill="#000"/>
<rect x="1363" y="65" width="3" height="15" fill="#fff"/>
<rect x="1372" y="59" width="1" height="28" fill="#000"/>
<rect x="1370" y="66" width="5" height="14" fill="#000"/>
<rect x="1380" y="59" width="1" height="28" fill="#000"/>
<rect x="1378" y="66" width="5" height="14" fill="#000"/>
<rect x="1379" y="67" width="3" height="12" fill="#fff"/>
<rect x="1388" y="62" width="1" height="9" fill="#000"/>
<rect x="1386" y="66" width="5" height="1" fill="#000"/>
<rect x="1396" y="59" width="1" height="14" fill="#000"/>
<rect x="1394" y="68" width="5" height="1" fill="#000"/>
<rect x="1404" y="70" width="1" height="7" fill="#000"/>
<rect x="1402" y="70" width="5" height="5" fill="#000"/>
<rect x="1412" y="72" width="1" height="10" fill="#000"/>
<rect x="1410" y="74" width="5" height="7" fill="#000"/>
<rect x="749" y="327" width="62" height="19" fill="#ff0000"/>
<rect x="750" y="328" width="60" height="17" fill="#ffffff"/>
<text x="751.5" y="342.5" font-size="16.5" fill="#ff0000" textLength="57.5" lengthAdjust="spacingAndGlyphs" shape-rendering="auto">29522.2</text>
<rect x="811" y="336" width="10" height="1" fill="#ff0000"/>
<rect x="917" y="174" width="62" height="19" fill="#ff0000"/>
<rect x="918" y="175" width="60" height="17" fill="#ffffff"/>
<text x="919.5" y="189.5" font-size="16.5" fill="#ff0000" textLength="57.5" lengthAdjust="spacingAndGlyphs" shape-rendering="auto">32020.0</text>
<rect x="979" y="183" width="10" height="1" fill="#ff0000"/>
<rect x="973" y="267" width="62" height="19" fill="#ff0000"/>
<rect x="974" y="268" width="60" height="17" fill="#ffffff"/>
<text x="975.5" y="282.5" font-size="16.5" fill="#ff0000" textLength="57.5" lengthAdjust="spacingAndGlyphs" shape-rendering="auto">30506.5</text>
<rect x="1035" y="276" width="10" height="1" fill="#ff0000"/>
<rect x="1069" y="107" width="62" height="19" fill="#ff0000"/>
<rect x="1070" y="108" width="60" height="17" fill="#ffffff"/>
<text x="1071.5" y="122.5" font-size="16.5" fill="#ff0000" textLength="57.5" lengthAdjust="spacingAndGlyphs" shape-rendering="auto">33121.4</text>
<rect x="1131" y="116" width="10" height="1" fill="#ff0000"/>
<rect x="1117" y="179" width="62" height="19" fill="#ff0000"/>
<rect x="1118" y="180" width="60" height="17" fill="#ffffff"/>
<text x="1119.5" y="194.5" font-size="16.5" fill="#ff0000" textLength="57.5" lengthAdjust="spacingAndGlyphs" shape-rendering="auto">31950.3</text>
<rect x="1179" y="188" width="10" height="1" fill="#ff0000"/>
<rect x="1165" y="57" width="62" height="19" fill="#ff0000"/>
<rect x="1166" y="58" width="60" height="17" fill="#ffffff"/>
<text x="1167.5" y="72.5" font-size="16.5" fill="#ff0000" textLength="57.5" lengthAdjust="spacingAndGlyphs" shape-rendering="auto">33929.0</text>
<rect x="1227" y="66" width="10" height="1" fill="#ff0000"/>
<rect x="1261" y="44" width="62" height="19" fill="#ff0000"/>
<rect x="1262" y="45" width="60" height="17" fill="#ffffff"/>
<text x="1263.5" y="59.5" font-size="16.5" fill="#ff0000" textLength="57.5" lengthAdjust="spacingAndGlyphs" shape-rendering="auto">34149.1</text>
<rect x="1323" y="53" width="10" height="1" fill="#ff0000"/>
<g shape-rendering="auto" fill="#ff0000" stroke="#ff0000">
<line x1="1185" y1="187" x2="1328" y2="61.5" stroke-width="2.5"/>
<polygon points="1332,58.5 1320.5,62 1327.5,70.5" stroke-width="1"/>
<line x1="1331" y1="58.8" x2="1412" y2="71" stroke-width="2.5"/>
<polygon points="1419,72 1406,70.5 1407,75.5" stroke-width="1"/>
</g>
<rect x="1369" y="61" width="81" height="10" fill="#00ff00"/>
<path d="M1487.5,85.3 L1479.5,91.4 M1485.4,88.4 L1494,87.7 L1488.2,91.4 M1484.9,88.4 L1486.8,91.9 M1488.8,92.8 L1478.8,95.4 M1487,94.7 L1480.2,99.4 M1487.5,96.3 L1495.2,96.1 L1483.7,102.4 L1478.8,103.6 M1485.8,98.2 L1487,101.3 M1507.8,85.3 L1509.7,87.4 M1501.3,90.5 L1502.2,88.4 L1517.7,88.4 L1515.8,90.5 M1507.4,90.3 L1501,95 M1511.1,90.3 L1516.7,93.5 M1503.4,95.4 L1515.8,95.4 M1509.2,95.4 L1509.2,102.4 M1500.3,102.4 L1518.4,102.4 M1522.1,88.4 L1529.4,88.4 M1526.1,85.3 L1523.3,93.5 L1528.7,94.2 M1526.8,91 L1526.8,103.6 M1522.1,99.8 L1524,98.5 L1530.8,97.3 M1531,89.3 L1537.6,89.3 M1535.2,85.3 L1532.2,96.1 M1528.7,93.5 L1540.5,93 M1532.2,96.3 L1538.7,96.3 L1535.9,99.9 M1531.7,99.4 L1537.6,103.1 M1544.1,90.5 L1550,90.5 M1548.6,85.3 L1548.6,102.7 L1545.3,102.4 M1544.3,95.9 L1551.4,93.3 M1561.9,86 L1553.7,87.4 L1553.7,92.8 L1549.5,103.4 M1553.7,92.4 L1562.6,92.4 M1558.6,92.4 L1558.6,103.6 M1575.2,85.1 L1575.2,91.9 M1575.2,88.4 L1582.7,88.4 M1570.3,92.4 L1581.3,92.4 L1581.3,97.5 L1570.3,97.5 M1570,92 L1570,98 L1567.3,103.1 M1572.7,100.6 L1574.1,102.4 M1576.9,100.6 L1578.5,102.4 M1581.3,99.9 L1583.4,102.4" fill="none" stroke="#00ff00" stroke-width="1.1" shape-rendering="auto"/>
</g>
<polygon points="1424,22 1434,22 1429,27" fill="#a0a0a0"/>
<text x="1" y="589.5" font-size="10" fill="#000" textLength="128.02" lengthAdjust="spacingAndGlyphs" stroke="#000" stroke-width="0.15">MACD(12,26,9) 252.25 331.04</text>
<rect x="4" y="674" width="1" height="17" fill="#c0c0c0"/>
<rect x="12" y="674" width="1" height="14" fill="#c0c0c0"/>
<rect x="20" y="674" width="1" height="9" fill="#c0c0c0"/>
<rect x="28" y="674" width="1" height="2" fill="#c0c0c0"/>
<rect x="36" y="674" width="1" height="2" fill="#c0c0c0"/>
<rect x="44" y="667" width="1" height="8" fill="#c0c0c0"/>
<rect x="52" y="658" width="1" height="17" fill="#c0c0c0"/>
<rect x="60" y="649" width="1" height="26" fill="#c0c0c0"/>
<rect x="68" y="643" width="1" height="32" fill="#c0c0c0"/>
<rect x="76" y="635" width="1" height="40" fill="#c0c0c0"/>
<rect x="84" y="632" width="1" height="43" fill="#c0c0c0"/>
<rect x="92" y="632" width="1" height="43" fill="#c0c0c0"/>
<rect x="100" y="632" width="1" height="43" fill="#c0c0c0"/>
<rect x="108" y="633" width="1" height="42" fill="#c0c0c0"/>
<rect x="116" y="634" width="1" height="41" fill="#c0c0c0"/>
<rect x="124" y="638" width="1" height="37" fill="#c0c0c0"/>
<rect x="132" y="641" width="1" height="34" fill="#c0c0c0"/>
<rect x="140" y="648" width="1" height="27" fill="#c0c0c0"/>
<rect x="148" y="649" width="1" height="26" fill="#c0c0c0"/>
<rect x="156" y="652" width="1" height="23" fill="#c0c0c0"/>
<rect x="164" y="656" width="1" height="19" fill="#c0c0c0"/>
<rect x="172" y="666" width="1" height="9" fill="#c0c0c0"/>
<rect x="180" y="674" width="1" height="5" fill="#c0c0c0"/>
<rect x="188" y="674" width="1" height="24" fill="#c0c0c0"/>
<rect x="196" y="674" width="1" height="41" fill="#c0c0c0"/>
<rect x="204" y="674" width="1" height="53" fill="#c0c0c0"/>
<rect x="212" y="674" width="1" height="64" fill="#c0c0c0"/>
<rect x="220" y="674" width="1" height="64" fill="#c0c0c0"/>
<rect x="228" y="674" width="1" height="54" fill="#c0c0c0"/>
<rect x="236" y="674" width="1" height="43" fill="#c0c0c0"/>
<rect x="244" y="674" width="1" height="27" fill="#c0c0c0"/>
<rect x="252" y="674" width="1" height="14" fill="#c0c0c0"/>
<rect x="260" y="674" width="1" height="1" fill="#c0c0c0"/>
<rect x="268" y="656" width="1" height="19" fill="#c0c0c0"/>
<rect x="276" y="639" width="1" height="36" fill="#c0c0c0"/>
<rect x="284" y="626" width="1" height="49" fill="#c0c0c0"/>
<rect x="292" y="620" width="1" height="55" fill="#c0c0c0"/>
<rect x="300" y="611" width="1" height="64" fill="#c0c0c0"/>
<rect x="308" y="601" width="1" height="74" fill="#c0c0c0"/>
<rect x="316" y="591" width="1" height="84" fill="#c0c0c0"/>
<rect x="324" y="586" width="1" height="89" fill="#c0c0c0"/>
<rect x="332" y="588" width="1" height="87" fill="#c0c0c0"/>
<rect x="340" y="593" width="1" height="82" fill="#c0c0c0"/>
<rect x="348" y="599" width="1" height="76" fill="#c0c0c0"/>
<rect x="356" y="603" width="1" height="72" fill="#c0c0c0"/>
<rect x="364" y="600" width="1" height="75" fill="#c0c0c0"/>
<rect x="372" y="595" width="1" height="80" fill="#c0c0c0"/>
<rect x="380" y="594" width="1" height="81" fill="#c0c0c0"/>
<rect x="388" y="595" width="1" height="80" fill="#c0c0c0"/>
<rect x="396" y="595" width="1" height="80" fill="#c0c0c0"/>
<rect x="404" y="597" width="1" height="78" fill="#c0c0c0"/>
<rect x="412" y="601" width="1" height="74" fill="#c0c0c0"/>
<rect x="420" y="604" width="1" height="71" fill="#c0c0c0"/>
<rect x="428" y="606" width="1" height="69" fill="#c0c0c0"/>
<rect x="436" y="607" width="1" height="68" fill="#c0c0c0"/>
<rect x="444" y="606" width="1" height="69" fill="#c0c0c0"/>
<rect x="452" y="605" width="1" height="70" fill="#c0c0c0"/>
<rect x="460" y="609" width="1" height="66" fill="#c0c0c0"/>
<rect x="468" y="609" width="1" height="66" fill="#c0c0c0"/>
<rect x="476" y="612" width="1" height="63" fill="#c0c0c0"/>
<rect x="484" y="615" width="1" height="60" fill="#c0c0c0"/>
<rect x="492" y="618" width="1" height="57" fill="#c0c0c0"/>
<rect x="500" y="619" width="1" height="56" fill="#c0c0c0"/>
<rect x="508" y="624" width="1" height="51" fill="#c0c0c0"/>
<rect x="516" y="626" width="1" height="49" fill="#c0c0c0"/>
<rect x="524" y="629" width="1" height="46" fill="#c0c0c0"/>
<rect x="532" y="630" width="1" height="45" fill="#c0c0c0"/>
<rect x="540" y="632" width="1" height="43" fill="#c0c0c0"/>
<rect x="548" y="634" width="1" height="41" fill="#c0c0c0"/>
<rect x="556" y="637" width="1" height="38" fill="#c0c0c0"/>
<rect x="564" y="641" width="1" height="34" fill="#c0c0c0"/>
<rect x="572" y="644" width="1" height="31" fill="#c0c0c0"/>
<rect x="580" y="646" width="1" height="29" fill="#c0c0c0"/>
<rect x="588" y="647" width="1" height="28" fill="#c0c0c0"/>
<rect x="596" y="645" width="1" height="30" fill="#c0c0c0"/>
<rect x="604" y="645" width="1" height="30" fill="#c0c0c0"/>
<rect x="612" y="645" width="1" height="30" fill="#c0c0c0"/>
<rect x="620" y="643" width="1" height="32" fill="#c0c0c0"/>
<rect x="628" y="641" width="1" height="34" fill="#c0c0c0"/>
<rect x="636" y="646" width="1" height="29" fill="#c0c0c0"/>
<rect x="644" y="648" width="1" height="27" fill="#c0c0c0"/>
<rect x="652" y="643" width="1" height="32" fill="#c0c0c0"/>
<rect x="660" y="637" width="1" height="38" fill="#c0c0c0"/>
<rect x="668" y="631" width="1" height="44" fill="#c0c0c0"/>
<rect x="676" y="629" width="1" height="46" fill="#c0c0c0"/>
<rect x="684" y="628" width="1" height="47" fill="#c0c0c0"/>
<rect x="692" y="626" width="1" height="49" fill="#c0c0c0"/>
<rect x="700" y="626" width="1" height="49" fill="#c0c0c0"/>
<rect x="708" y="627" width="1" height="48" fill="#c0c0c0"/>
<rect x="716" y="632" width="1" height="43" fill="#c0c0c0"/>
<rect x="724" y="636" width="1" height="39" fill="#c0c0c0"/>
<rect x="732" y="638" width="1" height="37" fill="#c0c0c0"/>
<rect x="740" y="639" width="1" height="36" fill="#c0c0c0"/>
<rect x="748" y="637" width="1" height="38" fill="#c0c0c0"/>
<rect x="756" y="636" width="1" height="39" fill="#c0c0c0"/>
<rect x="764" y="638" width="1" height="37" fill="#c0c0c0"/>
<rect x="772" y="640" width="1" height="35" fill="#c0c0c0"/>
<rect x="780" y="643" width="1" height="32" fill="#c0c0c0"/>
<rect x="788" y="646" width="1" height="29" fill="#c0c0c0"/>
<rect x="796" y="660" width="1" height="15" fill="#c0c0c0"/>
<rect x="804" y="665" width="1" height="10" fill="#c0c0c0"/>
<rect x="812" y="674" width="1" height="3" fill="#c0c0c0"/>
<rect x="820" y="674" width="1" height="14" fill="#c0c0c0"/>
<rect x="828" y="674" width="1" height="17" fill="#c0c0c0"/>
<rect x="836" y="674" width="1" height="12" fill="#c0c0c0"/>
<rect x="844" y="674" width="1" height="8" fill="#c0c0c0"/>
<rect x="852" y="674" width="1" height="1" fill="#c0c0c0"/>
<rect x="860" y="667" width="1" height="8" fill="#c0c0c0"/>
<rect x="868" y="662" width="1" height="13" fill="#c0c0c0"/>
<rect x="876" y="655" width="1" height="20" fill="#c0c0c0"/>
<rect x="884" y="649" width="1" height="26" fill="#c0c0c0"/>
<rect x="892" y="644" width="1" height="31" fill="#c0c0c0"/>
<rect x="900" y="641" width="1" height="34" fill="#c0c0c0"/>
<rect x="908" y="638" width="1" height="37" fill="#c0c0c0"/>
<rect x="916" y="636" width="1" height="39" fill="#c0c0c0"/>
<rect x="924" y="633" width="1" height="42" fill="#c0c0c0"/>
<rect x="932" y="633" width="1" height="42" fill="#c0c0c0"/>
<rect x="940" y="631" width="1" height="44" fill="#c0c0c0"/>
<rect x="948" y="632" width="1" height="43" fill="#c0c0c0"/>
<rect x="956" y="634" width="1" height="41" fill="#c0c0c0"/>
<rect x="964" y="635" width="1" height="40" fill="#c0c0c0"/>
<rect x="972" y="636" width="1" height="39" fill="#c0c0c0"/>
<rect x="980" y="637" width="1" height="38" fill="#c0c0c0"/>
<rect x="988" y="631" width="1" height="44" fill="#c0c0c0"/>
<rect x="996" y="637" width="1" height="38" fill="#c0c0c0"/>
<rect x="1004" y="648" width="1" height="27" fill="#c0c0c0"/>
<rect x="1012" y="653" width="1" height="22" fill="#c0c0c0"/>
<rect x="1020" y="652" width="1" height="23" fill="#c0c0c0"/>
<rect x="1028" y="652" width="1" height="23" fill="#c0c0c0"/>
<rect x="1036" y="658" width="1" height="17" fill="#c0c0c0"/>
<rect x="1044" y="665" width="1" height="10" fill="#c0c0c0"/>
<rect x="1052" y="663" width="1" height="12" fill="#c0c0c0"/>
<rect x="1060" y="659" width="1" height="16" fill="#c0c0c0"/>
<rect x="1068" y="653" width="1" height="22" fill="#c0c0c0"/>
<rect x="1076" y="649" width="1" height="26" fill="#c0c0c0"/>
<rect x="1084" y="640" width="1" height="35" fill="#c0c0c0"/>
<rect x="1092" y="630" width="1" height="45" fill="#c0c0c0"/>
<rect x="1100" y="619" width="1" height="56" fill="#c0c0c0"/>
<rect x="1108" y="610" width="1" height="65" fill="#c0c0c0"/>
<rect x="1116" y="604" width="1" height="71" fill="#c0c0c0"/>
<rect x="1124" y="602" width="1" height="73" fill="#c0c0c0"/>
<rect x="1132" y="598" width="1" height="77" fill="#c0c0c0"/>
<rect x="1140" y="598" width="1" height="77" fill="#c0c0c0"/>
<rect x="1148" y="603" width="1" height="72" fill="#c0c0c0"/>
<rect x="1156" y="609" width="1" height="66" fill="#c0c0c0"/>
<rect x="1164" y="610" width="1" height="65" fill="#c0c0c0"/>
<rect x="1172" y="618" width="1" height="57" fill="#c0c0c0"/>
<rect x="1180" y="623" width="1" height="52" fill="#c0c0c0"/>
<rect x="1188" y="626" width="1" height="49" fill="#c0c0c0"/>
<rect x="1196" y="622" width="1" height="53" fill="#c0c0c0"/>
<rect x="1204" y="621" width="1" height="54" fill="#c0c0c0"/>
<rect x="1212" y="619" width="1" height="56" fill="#c0c0c0"/>
<rect x="1220" y="619" width="1" height="56" fill="#c0c0c0"/>
<rect x="1228" y="620" width="1" height="55" fill="#c0c0c0"/>
<rect x="1236" y="620" width="1" height="55" fill="#c0c0c0"/>
<rect x="1244" y="618" width="1" height="57" fill="#c0c0c0"/>
<rect x="1252" y="614" width="1" height="61" fill="#c0c0c0"/>
<rect x="1260" y="613" width="1" height="62" fill="#c0c0c0"/>
<rect x="1268" y="613" width="1" height="62" fill="#c0c0c0"/>
<rect x="1276" y="612" width="1" height="63" fill="#c0c0c0"/>
<rect x="1284" y="610" width="1" height="65" fill="#c0c0c0"/>
<rect x="1292" y="609" width="1" height="66" fill="#c0c0c0"/>
<rect x="1300" y="609" width="1" height="66" fill="#c0c0c0"/>
<rect x="1308" y="611" width="1" height="64" fill="#c0c0c0"/>
<rect x="1316" y="611" width="1" height="64" fill="#c0c0c0"/>
<rect x="1324" y="609" width="1" height="66" fill="#c0c0c0"/>
<rect x="1332" y="606" width="1" height="69" fill="#c0c0c0"/>
<rect x="1340" y="606" width="1" height="69" fill="#c0c0c0"/>
<rect x="1348" y="606" width="1" height="69" fill="#c0c0c0"/>
<rect x="1356" y="611" width="1" height="64" fill="#c0c0c0"/>
<rect x="1364" y="612" width="1" height="63" fill="#c0c0c0"/>
<rect x="1372" y="617" width="1" height="58" fill="#c0c0c0"/>
<rect x="1380" y="618" width="1" height="57" fill="#c0c0c0"/>
<rect x="1388" y="620" width="1" height="55" fill="#c0c0c0"/>
<rect x="1396" y="622" width="1" height="53" fill="#c0c0c0"/>
<rect x="1404" y="626" width="1" height="49" fill="#c0c0c0"/>
<rect x="1412" y="631" width="1" height="44" fill="#c0c0c0"/>
<polyline points="0,704.6 4.5,704.2 12.5,703.5 20.5,701.4 28.5,697.8 36.5,692.9 44.5,686.5 52.5,680.8 60.5,675.2 68.5,669.7 76.5,663.5 84.5,657.2 92.5,651.5 100.5,646.5 108.5,641.9 116.5,638.1 124.5,635.9 132.5,635.0 140.5,635.5 148.5,637.1 156.5,639.4 164.5,642.1 172.5,645.9 180.5,651.0 188.5,658.2 196.5,666.7 204.5,676.2 212.5,686.2 220.5,696.1 228.5,704.4 236.5,711.2 244.5,715.1 252.5,716.2 260.5,713.6 268.5,707.1 276.5,697.3 284.5,684.9 292.5,671.8 300.5,658.8 308.5,645.9 316.5,633.6 324.5,622.2 332.5,612.6 340.5,605.6 348.5,601.1 356.5,598.6 364.5,596.4 372.5,594.6 380.5,593.8 388.5,594.3 396.5,595.3 404.5,596.3 412.5,597.1 420.5,597.7 428.5,598.0 436.5,598.8 444.5,600.1 452.5,601.3 460.5,602.8 468.5,604.3 476.5,606.0 484.5,607.6 492.5,609.1 500.5,610.5 508.5,612.4 516.5,614.7 524.5,617.3 532.5,619.7 540.5,622.3 548.5,624.8 556.5,627.3 564.5,629.9 572.5,632.6 580.5,635.0 588.5,637.2 596.5,639.0 604.5,640.7 612.5,642.1 620.5,643.1 628.5,643.6 636.5,644.1 644.5,644.6 652.5,644.3 660.5,643.2 668.5,641.7 676.5,639.9 684.5,638.0 692.5,636.1 700.5,634.4 708.5,632.3 716.5,630.5 724.5,629.7 732.5,629.9 740.5,630.8 748.5,631.6 756.5,632.6 764.5,634.0 772.5,635.5 780.5,637.3 788.5,638.8 796.5,641.4 804.5,644.3 812.5,648.5 820.5,654.2 828.5,660.2 836.5,665.6 844.5,670.3 852.5,673.8 860.5,676.2 868.5,676.4 876.5,675.4 884.5,672.3 892.5,667.5 900.5,661.9 908.5,656.5 916.5,651.4 924.5,646.7 932.5,642.8 940.5,639.4 948.5,636.9 956.5,635.2 964.5,634.1 972.5,633.5 980.5,633.4 988.5,632.9 996.5,633.4 1004.5,635.1 1012.5,637.6 1020.5,639.7 1028.5,641.8 1036.5,644.3 1044.5,647.7 1052.5,650.5 1060.5,653.7 1068.5,655.4 1076.5,655.5 1084.5,654.0 1092.5,651.7 1100.5,648.0 1108.5,642.8 1116.5,635.9 1124.5,629.1 1132.5,622.3 1140.5,616.3 1148.5,611.2 1156.5,607.7 1164.5,605.5 1172.5,605.3 1180.5,606.7 1188.5,609.1 1196.5,611.3 1204.5,613.9 1212.5,616.2 1220.5,618.0 1228.5,619.3 1236.5,620.4 1244.5,620.4 1252.5,619.5 1260.5,618.1 1268.5,617.1 1276.5,616.0 1284.5,615.0 1292.5,613.8 1300.5,612.5 1308.5,611.4 1316.5,610.7 1324.5,610.0 1332.5,609.3 1340.5,608.5 1348.5,607.9 1356.5,608.0 1364.5,608.4 1372.5,609.3 1380.5,610.2 1388.5,611.2 1396.5,612.7 1404.5,615.0 1412.5,617.8" fill="none" stroke="#ff0000" stroke-width="1" stroke-dasharray="3,3"/>
<text x="1687" y="587.0" font-size="9.6" fill="#000" textLength="28.08" lengthAdjust="spacingAndGlyphs" stroke="#000" stroke-width="0.15">565.66</text>
<text x="1687" y="678.0" font-size="9.6" fill="#000" textLength="17.87" lengthAdjust="spacingAndGlyphs" stroke="#000" stroke-width="0.15">0.00</text>
<text x="1687" y="743.0" font-size="9.6" fill="#000" textLength="31.13" lengthAdjust="spacingAndGlyphs" stroke="#000" stroke-width="0.15">-419.33</text>
<rect x="1684" y="578" width="1" height="1" fill="#000"/>
<rect x="1684" y="674" width="2" height="1" fill="#000"/>
<rect x="1684" y="745" width="2" height="1" fill="#000"/>
<text x="1" y="761" font-size="10" fill="#000" textLength="68.24" lengthAdjust="spacingAndGlyphs" stroke="#000" stroke-width="0.15">RSI(14) 55.4828</text>
<line x1="3" y1="784.5" x2="1683" y2="784.5" stroke="#c0c0c0" stroke-width="1" stroke-dasharray="3,3"/>
<line x1="3" y1="835.5" x2="1683" y2="835.5" stroke="#c0c0c0" stroke-width="1" stroke-dasharray="3,3"/>
<line x1="3" y1="896.5" x2="1683" y2="896.5" stroke="#c0c0c0" stroke-width="1" stroke-dasharray="3,3"/>
<polyline points="0,831.3 4.5,833.2 12.5,836.7 20.5,831.2 28.5,825.2 36.5,835.7 44.5,822.1 52.5,818.1 60.5,816.5 68.5,817.7 76.5,811.7 84.5,817.4 92.5,823.3 100.5,823.2 108.5,824.5 116.5,821.7 124.5,831.7 132.5,830.3 140.5,840.2 148.5,830.3 156.5,834.4 164.5,836.9 172.5,852.2 180.5,859.6 188.5,871.4 196.5,873.7 204.5,872.3 212.5,875.1 220.5,853.4 228.5,836.2 236.5,833.4 244.5,822.3 252.5,822.3 260.5,817.7 268.5,808.1 276.5,804.9 284.5,804.9 292.5,813.7 300.5,807.6 308.5,804.3 316.5,800.7 324.5,805.2 332.5,816.4 340.5,822.4 348.5,823.4 356.5,821.4 364.5,812.0 372.5,806.0 380.5,813.1 388.5,815.6 396.5,812.9 404.5,813.4 412.5,819.1 420.5,818.6 428.5,815.7 436.5,812.9 444.5,808.4 452.5,807.3 460.5,817.7 468.5,812.1 476.5,817.3 484.5,817.5 492.5,818.5 500.5,814.5 508.5,826.3 516.5,820.3 524.5,821.9 532.5,818.0 540.5,820.6 548.5,820.2 556.5,824.5 564.5,830.5 572.5,826.2 580.5,824.8 588.5,822.3 596.5,813.5 604.5,821.0 612.5,816.7 620.5,811.8 628.5,810.5 636.5,834.6 644.5,828.0 652.5,810.6 660.5,805.4 668.5,803.8 676.5,810.5 684.5,810.1 692.5,808.3 700.5,808.6 708.5,811.9 716.5,828.0 724.5,827.7 732.5,822.7 740.5,817.4 748.5,809.7 756.5,814.2 764.5,822.2 772.5,819.8 780.5,828.1 788.5,827.3 796.5,861.8 804.5,842.6 812.5,858.0 820.5,861.5 828.5,845.9 836.5,832.9 844.5,831.8 852.5,824.6 860.5,822.1 868.5,822.3 876.5,817.4 884.5,817.2 892.5,815.3 900.5,815.2 908.5,814.0 916.5,813.6 924.5,809.4 932.5,817.2 940.5,812.1 948.5,820.6 956.5,820.8 964.5,818.9 972.5,817.5 980.5,819.7 988.5,802.3 996.5,833.6 1004.5,847.2 1012.5,839.1 1020.5,826.8 1028.5,830.9 1036.5,839.6 1044.5,846.6 1052.5,829.9 1060.5,826.8 1068.5,820.3 1076.5,823.3 1084.5,814.2 1092.5,810.3 1100.5,805.7 1108.5,804.3 1116.5,804.3 1124.5,810.8 1132.5,805.6 1140.5,813.5 1148.5,823.2 1156.5,824.2 1164.5,818.7 1172.5,830.8 1180.5,829.1 1188.5,824.9 1196.5,814.8 1204.5,818.3 1212.5,814.0 1220.5,818.8 1228.5,818.8 1236.5,815.9 1244.5,811.6 1252.5,807.1 1260.5,809.5 1268.5,809.4 1276.5,807.2 1284.5,803.0 1292.5,803.2 1300.5,802.9 1308.5,809.2 1316.5,805.2 1324.5,798.2 1332.5,796.6 1340.5,798.4 1348.5,798.0 1356.5,816.8 1364.5,808.4 1372.5,821.3 1380.5,814.3 1388.5,814.3 1396.5,816.1 1404.5,822.1 1412.5,827.4" fill="none" stroke="#1e90ff" stroke-width="1"/>
<text x="1686" y="759.0" font-size="9.6" fill="#000" textLength="14.73" lengthAdjust="spacingAndGlyphs" stroke="#000" stroke-width="0.15">100</text>
<text x="1686" y="788.0" font-size="9.6" fill="#000" textLength="9.82" lengthAdjust="spacingAndGlyphs" stroke="#000" stroke-width="0.15">80</text>
<text x="1686" y="839.0" font-size="9.6" fill="#000" textLength="9.82" lengthAdjust="spacingAndGlyphs" stroke="#000" stroke-width="0.15">50</text>
<text x="1686" y="900.0" font-size="9.6" fill="#000" textLength="9.82" lengthAdjust="spacingAndGlyphs" stroke="#000" stroke-width="0.15">15</text>
<text x="1686" y="919.0" font-size="9.6" fill="#000" textLength="4.91" lengthAdjust="spacingAndGlyphs" stroke="#000" stroke-width="0.15">0</text>
<rect x="1684" y="750" width="1" height="1" fill="#000"/>
<rect x="0" y="21" width="1683" height="1" fill="#000"/>
<rect x="0" y="574" width="1683" height="1" fill="#000"/>
<rect x="0" y="576" width="1683" height="1" fill="#000"/>
<rect x="0" y="746" width="1683" height="1" fill="#000"/>
<rect x="0" y="748" width="1683" height="1" fill="#000"/>
<rect x="0" y="922" width="1683" height="1" fill="#000"/>
<rect x="1683" y="21" width="1" height="554" fill="#000"/>
<rect x="1683" y="576" width="1" height="171" fill="#000"/>
<rect x="1683" y="748" width="1" height="175" fill="#000"/>
<rect x="1684" y="43" width="2" height="1" fill="#000"/>
<text x="1689" y="47" font-size="9.9" fill="#000" textLength="33" lengthAdjust="spacingAndGlyphs" stroke="#000" stroke-width="0.15">34299.0</text>
<rect x="1684" y="76" width="2" height="1" fill="#000"/>
<text x="1689" y="80" font-size="9.9" fill="#000" textLength="33" lengthAdjust="spacingAndGlyphs" stroke="#000" stroke-width="0.15">33771.0</text>
<rect x="1684" y="109" width="2" height="1" fill="#000"/>
<text x="1689" y="113" font-size="9.9" fill="#000" textLength="33" lengthAdjust="spacingAndGlyphs" stroke="#000" stroke-width="0.15">33227.0</text>
<rect x="1684" y="142" width="2" height="1" fill="#000"/>
<text x="1689" y="146" font-size="9.9" fill="#000" textLength="33" lengthAdjust="spacingAndGlyphs" stroke="#000" stroke-width="0.15">32699.0</text>
<rect x="1684" y="175" width="2" height="1" fill="#000"/>
<text x="1689" y="179" font-size="9.9" fill="#000" textLength="33" lengthAdjust="spacingAndGlyphs" stroke="#000" stroke-width="0.15">32155.0</text>
<rect x="1684" y="208" width="2" height="1" fill="#000"/>
<text x="1689" y="212" font-size="9.9" fill="#000" textLength="33" lengthAdjust="spacingAndGlyphs" stroke="#000" stroke-width="0.15">31611.0</text>
<rect x="1684" y="241" width="2" height="1" fill="#000"/>
<text x="1689" y="245" font-size="9.9" fill="#000" textLength="33" lengthAdjust="spacingAndGlyphs" stroke="#000" stroke-width="0.15">31083.0</text>
<rect x="1684" y="274" width="2" height="1" fill="#000"/>
<text x="1689" y="278" font-size="9.9" fill="#000" textLength="33" lengthAdjust="spacingAndGlyphs" stroke="#000" stroke-width="0.15">30539.0</text>
<rect x="1684" y="307" width="2" height="1" fill="#000"/>
<text x="1689" y="311" font-size="9.9" fill="#000" textLength="33" lengthAdjust="spacingAndGlyphs" stroke="#000" stroke-width="0.15">29995.0</text>
<rect x="1684" y="340" width="2" height="1" fill="#000"/>
<text x="1689" y="344" font-size="9.9" fill="#000" textLength="33" lengthAdjust="spacingAndGlyphs" stroke="#000" stroke-width="0.15">29467.0</text>
<rect x="1684" y="373" width="2" height="1" fill="#000"/>
<text x="1689" y="377" font-size="9.9" fill="#000" textLength="33" lengthAdjust="spacingAndGlyphs" stroke="#000" stroke-width="0.15">28923.0</text>
<rect x="1684" y="406" width="2" height="1" fill="#000"/>
<text x="1689" y="410" font-size="9.9" fill="#000" textLength="33" lengthAdjust="spacingAndGlyphs" stroke="#000" stroke-width="0.15">28395.0</text>
<rect x="1684" y="439" width="2" height="1" fill="#000"/>
<text x="1689" y="443" font-size="9.9" fill="#000" textLength="33" lengthAdjust="spacingAndGlyphs" stroke="#000" stroke-width="0.15">27851.0</text>
<rect x="1684" y="472" width="2" height="1" fill="#000"/>
<text x="1689" y="476" font-size="9.9" fill="#000" textLength="33" lengthAdjust="spacingAndGlyphs" stroke="#000" stroke-width="0.15">27307.0</text>
<rect x="1684" y="505" width="2" height="1" fill="#000"/>
<text x="1689" y="509" font-size="9.9" fill="#000" textLength="33" lengthAdjust="spacingAndGlyphs" stroke="#000" stroke-width="0.15">26779.0</text>
<rect x="1684" y="538" width="2" height="1" fill="#000"/>
<text x="1689" y="542" font-size="9.9" fill="#000" textLength="33" lengthAdjust="spacingAndGlyphs" stroke="#000" stroke-width="0.15">26235.0</text>
<rect x="1684" y="571" width="2" height="1" fill="#000"/>
<text x="1689" y="575" font-size="9.9" fill="#000" textLength="33" lengthAdjust="spacingAndGlyphs" stroke="#000" stroke-width="0.15">25707.0</text>
<rect x="1685" y="22" width="41" height="11" fill="#ff0000"/>
<text x="1689" y="31.5" font-size="10.4" fill="#fff" textLength="33" lengthAdjust="spacingAndGlyphs">34551.0</text>
<rect x="1685" y="35" width="41" height="11" fill="#ff0000"/>
<text x="1689" y="44.5" font-size="10.4" fill="#fff" textLength="33" lengthAdjust="spacingAndGlyphs">34344.4</text>
<rect x="1685" y="60" width="41" height="11" fill="#32cd32"/>
<text x="1689" y="69.5" font-size="10.4" fill="#fff" textLength="33" lengthAdjust="spacingAndGlyphs">33929.0</text>
<rect x="1685" y="75" width="41" height="7" fill="#000"/>
<text x="1689" y="83.5" font-size="10.4" fill="#fff" textLength="33" lengthAdjust="spacingAndGlyphs">33708.0</text>
<rect x="1685" y="82" width="41" height="11" fill="#0000ff"/>
<text x="1689" y="91.5" font-size="10.4" fill="#fff" textLength="33" lengthAdjust="spacingAndGlyphs">33578.2</text>
<rect x="1685" y="98" width="41" height="11" fill="#0000ff"/>
<text x="1689" y="107.5" font-size="10.4" fill="#fff" textLength="33" lengthAdjust="spacingAndGlyphs">33307.1</text>
<text x="-5" y="935" font-size="9.8" fill="#000" textLength="53.34" lengthAdjust="spacingAndGlyphs" stroke="#000" stroke-width="0.15">30 Sep 2020</text>
<rect x="60" y="923" width="1" height="3" fill="#000"/>
<text x="59" y="935" font-size="9.8" fill="#000" textLength="46.01" lengthAdjust="spacingAndGlyphs" stroke="#000" stroke-width="0.15">9 Oct 2020</text>
<rect x="124" y="923" width="1" height="3" fill="#000"/>
<text x="123" y="935" font-size="9.8" fill="#000" textLength="51.24" lengthAdjust="spacingAndGlyphs" stroke="#000" stroke-width="0.15">19 Oct 2020</text>
<rect x="188" y="923" width="1" height="3" fill="#000"/>
<text x="187" y="935" font-size="9.8" fill="#000" textLength="51.24" lengthAdjust="spacingAndGlyphs" stroke="#000" stroke-width="0.15">28 Oct 2020</text>
<rect x="252" y="923" width="1" height="3" fill="#000"/>
<text x="251" y="935" font-size="9.8" fill="#000" textLength="48.1" lengthAdjust="spacingAndGlyphs" stroke="#000" stroke-width="0.15">6 Nov 2020</text>
<rect x="316" y="923" width="1" height="3" fill="#000"/>
<text x="315" y="935" font-size="9.8" fill="#000" textLength="53.33" lengthAdjust="spacingAndGlyphs" stroke="#000" stroke-width="0.15">16 Nov 2020</text>
<rect x="380" y="923" width="1" height="3" fill="#000"/>
<text x="379" y="935" font-size="9.8" fill="#000" textLength="53.33" lengthAdjust="spacingAndGlyphs" stroke="#000" stroke-width="0.15">25 Nov 2020</text>
<rect x="444" y="923" width="1" height="3" fill="#000"/>
<text x="443" y="935" font-size="9.8" fill="#000" textLength="48.1" lengthAdjust="spacingAndGlyphs" stroke="#000" stroke-width="0.15">4 Dec 2020</text>
<rect x="508" y="923" width="1" height="3" fill="#000"/>
<text x="507" y="935" font-size="9.8" fill="#000" textLength="53.33" lengthAdjust="spacingAndGlyphs" stroke="#000" stroke-width="0.15">14 Dec 2020</text>
<rect x="572" y="923" width="1" height="3" fill="#000"/>
<text x="571" y="935" font-size="9.8" fill="#000" textLength="53.33" lengthAdjust="spacingAndGlyphs" stroke="#000" stroke-width="0.15">23 Dec 2020</text>
<rect x="636" y="923" width="1" height="3" fill="#000"/>
<text x="635" y="935" font-size="9.8" fill="#000" textLength="46.54" lengthAdjust="spacingAndGlyphs" stroke="#000" stroke-width="0.15">4 Jan 2021</text>
<rect x="700" y="923" width="1" height="3" fill="#000"/>
<text x="699" y="935" font-size="9.8" fill="#000" textLength="51.77" lengthAdjust="spacingAndGlyphs" stroke="#000" stroke-width="0.15">13 Jan 2021</text>
<rect x="764" y="923" width="1" height="3" fill="#000"/>
<text x="763" y="935" font-size="9.8" fill="#000" textLength="51.77" lengthAdjust="spacingAndGlyphs" stroke="#000" stroke-width="0.15">22 Jan 2021</text>
<rect x="828" y="923" width="1" height="3" fill="#000"/>
<text x="827" y="935" font-size="9.8" fill="#000" textLength="47.59" lengthAdjust="spacingAndGlyphs" stroke="#000" stroke-width="0.15">1 Feb 2021</text>
<rect x="892" y="923" width="1" height="3" fill="#000"/>
<text x="891" y="935" font-size="9.8" fill="#000" textLength="52.82" lengthAdjust="spacingAndGlyphs" stroke="#000" stroke-width="0.15">10 Feb 2021</text>
<rect x="956" y="923" width="1" height="3" fill="#000"/>
<text x="955" y="935" font-size="9.8" fill="#000" textLength="52.82" lengthAdjust="spacingAndGlyphs" stroke="#000" stroke-width="0.15">19 Feb 2021</text>
<rect x="1020" y="923" width="1" height="3" fill="#000"/>
<text x="1019" y="935" font-size="9.8" fill="#000" textLength="47.58" lengthAdjust="spacingAndGlyphs" stroke="#000" stroke-width="0.15">1 Mar 2021</text>
<rect x="1084" y="923" width="1" height="3" fill="#000"/>
<text x="1083" y="935" font-size="9.8" fill="#000" textLength="52.81" lengthAdjust="spacingAndGlyphs" stroke="#000" stroke-width="0.15">10 Mar 2021</text>
<rect x="1148" y="923" width="1" height="3" fill="#000"/>
<text x="1147" y="935" font-size="9.8" fill="#000" textLength="52.81" lengthAdjust="spacingAndGlyphs" stroke="#000" stroke-width="0.15">19 Mar 2021</text>
<rect x="1212" y="923" width="1" height="3" fill="#000"/>
<text x="1211" y="935" font-size="9.8" fill="#000" textLength="52.81" lengthAdjust="spacingAndGlyphs" stroke="#000" stroke-width="0.15">29 Mar 2021</text>
<rect x="1276" y="923" width="1" height="3" fill="#000"/>
<text x="1275" y="935" font-size="9.8" fill="#000" textLength="46.01" lengthAdjust="spacingAndGlyphs" stroke="#000" stroke-width="0.15">8 Apr 2021</text>
<rect x="1340" y="923" width="1" height="3" fill="#000"/>
<text x="1339" y="935" font-size="9.8" fill="#000" textLength="51.25" lengthAdjust="spacingAndGlyphs" stroke="#000" stroke-width="0.15">18 Apr 2021</text>
<rect x="1404" y="923" width="1" height="3" fill="#000"/>
<text x="1403" y="935" font-size="9.8" fill="#000" textLength="51.25" lengthAdjust="spacingAndGlyphs" stroke="#000" stroke-width="0.15">27 Apr 2021</text>
<linearGradient id="gtab" x1="0" y1="0" x2="0" y2="1"><stop offset="0" stop-color="#ff5a5a"/><stop offset="1" stop-color="#e23434"/></linearGradient>
<linearGradient id="gbox" x1="0" y1="0" x2="0" y2="1"><stop offset="0" stop-color="#e43636"/><stop offset="1" stop-color="#b00000"/></linearGradient>
<rect x="0" y="36" width="220" height="70" fill="#ffffff"/>
<linearGradient id="gbtn" x1="0" y1="0" x2="0" y2="1"><stop offset="0" stop-color="#f2f2f2"/><stop offset="0.45" stop-color="#e6e6e6"/><stop offset="0.5" stop-color="#d6d6d6"/><stop offset="1" stop-color="#d0d0d0"/></linearGradient>
<rect x="0" y="41" width="51" height="24" fill="#b40000"/>
<rect x="0" y="42" width="50" height="23" fill="url(#gtab)"/>
<rect x="0" y="65" width="108" height="40" fill="#b40000"/>
<rect x="0" y="66" width="107" height="38" fill="url(#gbox)"/>
<rect x="0" y="64" width="50" height="2" fill="#e23434"/>
<rect x="3" y="64" width="44" height="1" fill="#800000"/>
<rect x="3" y="65" width="44" height="1" fill="#ff7070"/>
<rect x="166" y="41" width="52" height="24" fill="#b40000"/>
<rect x="167" y="42" width="50" height="23" fill="url(#gtab)"/>
<rect x="110" y="65" width="108" height="40" fill="#b40000"/>
<rect x="111" y="66" width="106" height="38" fill="url(#gbox)"/>
<rect x="167" y="64" width="50" height="2" fill="#e23434"/>
<rect x="170" y="64" width="44" height="1" fill="#800000"/>
<rect x="170" y="65" width="44" height="1" fill="#ff7070"/>
<rect x="53" y="41" width="111" height="22" fill="#a8abb2"/>
<rect x="54" y="42" width="109" height="20" fill="#ffffff"/>
<rect x="55" y="43" width="19" height="18" fill="url(#gbtn)"/>
<rect x="74" y="42" width="1" height="20" fill="#a8abb2"/>
<rect x="143" y="42" width="1" height="20" fill="#a8abb2"/>
<rect x="144" y="43" width="19" height="18" fill="url(#gbtn)"/>
<polygon points="61,49.5 66,49.5 63.5,52.5" fill="#4a5ec8" shape-rendering="auto"/>
<polygon points="151,52.5 156,52.5 153.5,49.5" fill="#4a5ec8" shape-rendering="auto"/>
<text x="138.5" y="56" font-size="12.5" fill="#000" text-anchor="end" textLength="23.2" lengthAdjust="spacingAndGlyphs" shape-rendering="auto">1.00</text>
<text x="11.5" y="57" font-size="12" fill="#fff" textLength="25.2" lengthAdjust="spacingAndGlyphs">SELL</text>
<text x="179.5" y="57" font-size="12" fill="#fff" textLength="23.2" lengthAdjust="spacingAndGlyphs">BUY</text>
<text x="15.5" y="96" font-size="12" fill="#fff" textLength="34.3" lengthAdjust="spacingAndGlyphs" font-weight="bold">33706</text>
<text x="125.5" y="96" font-size="12" fill="#fff" textLength="34.3" lengthAdjust="spacingAndGlyphs" font-weight="bold">33718</text>
<circle cx="56.3" cy="93.3" r="2.2" fill="#fff" shape-rendering="auto"/>
<circle cx="167.1" cy="93.3" r="2.2" fill="#fff" shape-rendering="auto"/>
<text x="61.8" y="96" font-size="35" fill="#fff" textLength="14" lengthAdjust="spacingAndGlyphs">5</text>
<text x="172.8" y="96" font-size="35" fill="#fff" textLength="14" lengthAdjust="spacingAndGlyphs">5</text>
</svg></body></html>
